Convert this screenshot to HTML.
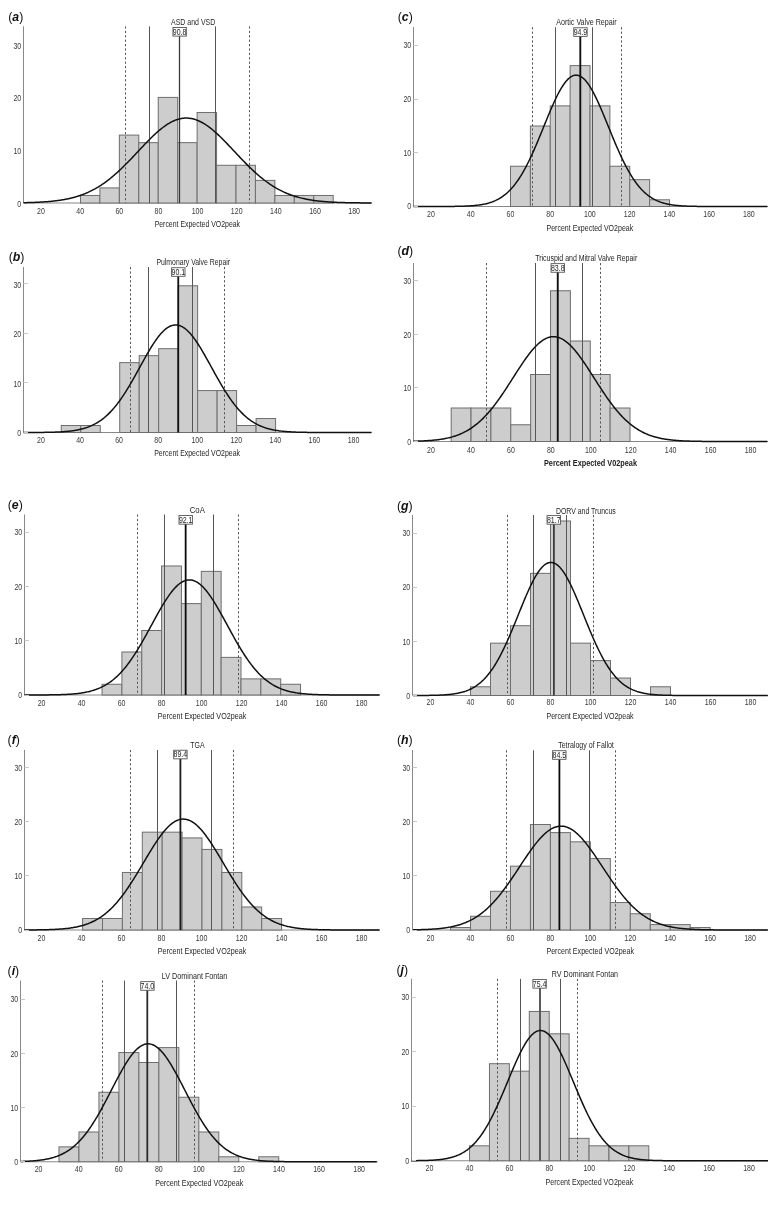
<!DOCTYPE html>
<html><head><meta charset="utf-8"><style>
html,body{margin:0;padding:0;background:#fff;}
svg{display:block;filter:grayscale(1);font-family:"Liberation Sans",sans-serif;}
.bar{fill:#cdcdcd;stroke:#6e6e6e;stroke-width:1;}
.dot{stroke:#555;stroke-width:1;stroke-dasharray:2.2,2.2;}
.thin{stroke:#555;stroke-width:1;}
.mean{stroke:#111;stroke-width:1.6;}
.curve{fill:none;stroke:#111;stroke-width:1.5;stroke-linejoin:round;}
.ax{stroke:#888;stroke-width:1;}
.tick{stroke:#c8c8c8;stroke-width:1;}
.tl{font-size:8.4px;fill:#3a3a3a;}
.tt{font-size:8.4px;fill:#262626;}
.bt{font-size:8.4px;fill:#262626;}
.box{fill:#fff;stroke:#555;stroke-width:0.9;}
.xl{font-size:8.4px;fill:#262626;}
.xlb{font-size:8.6px;fill:#222;font-weight:bold;}
.pl{font-size:13px;fill:#111;}
.pli{font-weight:bold;font-style:italic;}
</style></head>
<body><svg width="776" height="1209" viewBox="0 0 776 1209">
<rect width="776" height="1209" fill="#fff"/>
<line x1="23.5" y1="26.3" x2="23.5" y2="203" class="ax"/>
<line x1="23.5" y1="203" x2="372" y2="203" class="ax"/>
<rect x="80.48" y="195.46" width="19.44" height="7.54" class="bar"/>
<rect x="99.92" y="187.91" width="19.44" height="15.09" class="bar"/>
<rect x="119.36" y="135.11" width="19.44" height="67.89" class="bar"/>
<rect x="138.8" y="142.66" width="19.44" height="60.34" class="bar"/>
<rect x="158.24" y="97.4" width="19.44" height="105.6" class="bar"/>
<rect x="177.68" y="142.66" width="19.44" height="60.34" class="bar"/>
<rect x="197.12" y="112.49" width="19.44" height="90.51" class="bar"/>
<rect x="216.56" y="165.29" width="19.44" height="37.71" class="bar"/>
<rect x="236" y="165.29" width="19.44" height="37.71" class="bar"/>
<rect x="255.44" y="180.37" width="19.44" height="22.63" class="bar"/>
<rect x="274.88" y="195.46" width="19.44" height="7.54" class="bar"/>
<rect x="294.32" y="195.46" width="19.44" height="7.54" class="bar"/>
<rect x="313.76" y="195.46" width="19.44" height="7.54" class="bar"/>
<line x1="125.5" y1="26.4" x2="125.5" y2="203" class="dot"/>
<line x1="249.5" y1="26.4" x2="249.5" y2="203" class="dot"/>
<line x1="149.5" y1="26.4" x2="149.5" y2="203" class="thin"/>
<line x1="215.5" y1="26.4" x2="215.5" y2="203" class="thin"/>
<line x1="179.5" y1="31.8" x2="179.5" y2="203" class="mean" style="stroke-width:1.3;stroke:#3a3a3a"/>
<polyline class="curve" points="23.5,202.71 24.5,202.69 25.5,202.67 26.5,202.65 27.5,202.62 28.5,202.6 29.5,202.57 30.5,202.54 31.5,202.51 32.5,202.47 33.5,202.44 34.5,202.4 35.5,202.36 36.5,202.32 37.5,202.27 38.5,202.22 39.5,202.17 40.5,202.12 41.5,202.06 42.5,202 43.5,201.94 44.5,201.87 45.5,201.8 46.5,201.73 47.5,201.65 48.5,201.57 49.5,201.48 50.5,201.39 51.5,201.29 52.5,201.19 53.5,201.08 54.5,200.97 55.5,200.85 56.5,200.73 57.5,200.6 58.5,200.46 59.5,200.32 60.5,200.17 61.5,200.01 62.5,199.85 63.5,199.67 64.5,199.5 65.5,199.31 66.5,199.11 67.5,198.91 68.5,198.69 69.5,198.47 70.5,198.24 71.5,198 72.5,197.74 73.5,197.48 74.5,197.21 75.5,196.93 76.5,196.63 77.5,196.32 78.5,196.01 79.5,195.68 80.5,195.33 81.5,194.98 82.5,194.61 83.5,194.23 84.5,193.83 85.5,193.43 86.5,193 87.5,192.57 88.5,192.12 89.5,191.65 90.5,191.17 91.5,190.68 92.5,190.17 93.5,189.64 94.5,189.1 95.5,188.55 96.5,187.97 97.5,187.39 98.5,186.78 99.5,186.16 100.5,185.53 101.5,184.87 102.5,184.2 103.5,183.52 104.5,182.82 105.5,182.1 106.5,181.37 107.5,180.61 108.5,179.85 109.5,179.07 110.5,178.27 111.5,177.45 112.5,176.63 113.5,175.78 114.5,174.92 115.5,174.05 116.5,173.16 117.5,172.26 118.5,171.34 119.5,170.41 120.5,169.47 121.5,168.52 122.5,167.55 123.5,166.57 124.5,165.58 125.5,164.59 126.5,163.58 127.5,162.56 128.5,161.53 129.5,160.5 130.5,159.46 131.5,158.41 132.5,157.36 133.5,156.3 134.5,155.24 135.5,154.18 136.5,153.11 137.5,152.04 138.5,150.97 139.5,149.91 140.5,148.84 141.5,147.77 142.5,146.71 143.5,145.66 144.5,144.6 145.5,143.56 146.5,142.52 147.5,141.49 148.5,140.47 149.5,139.46 150.5,138.46 151.5,137.48 152.5,136.51 153.5,135.55 154.5,134.61 155.5,133.68 156.5,132.77 157.5,131.89 158.5,131.02 159.5,130.17 160.5,129.34 161.5,128.54 162.5,127.76 163.5,127 164.5,126.27 165.5,125.57 166.5,124.89 167.5,124.24 168.5,123.62 169.5,123.03 170.5,122.47 171.5,121.94 172.5,121.44 173.5,120.98 174.5,120.54 175.5,120.14 176.5,119.78 177.5,119.45 178.5,119.15 179.5,118.89 180.5,118.66 181.5,118.47 182.5,118.32 183.5,118.2 184.5,118.12 185.5,118.07 186.5,118.07 187.5,118.09 188.5,118.16 189.5,118.26 190.5,118.4 191.5,118.57 192.5,118.78 193.5,119.02 194.5,119.3 195.5,119.62 196.5,119.97 197.5,120.35 198.5,120.77 199.5,121.22 200.5,121.7 201.5,122.22 202.5,122.76 203.5,123.34 204.5,123.95 205.5,124.58 206.5,125.25 207.5,125.94 208.5,126.66 209.5,127.4 210.5,128.17 211.5,128.96 212.5,129.78 213.5,130.62 214.5,131.48 215.5,132.36 216.5,133.26 217.5,134.17 218.5,135.11 219.5,136.06 220.5,137.02 221.5,138 222.5,138.99 223.5,140 224.5,141.01 225.5,142.04 226.5,143.07 227.5,144.12 228.5,145.16 229.5,146.22 230.5,147.28 231.5,148.34 232.5,149.41 233.5,150.47 234.5,151.54 235.5,152.61 236.5,153.68 237.5,154.74 238.5,155.81 239.5,156.87 240.5,157.92 241.5,158.97 242.5,160.01 243.5,161.05 244.5,162.08 245.5,163.1 246.5,164.12 247.5,165.12 248.5,166.11 249.5,167.1 250.5,168.07 251.5,169.03 252.5,169.97 253.5,170.91 254.5,171.83 255.5,172.74 256.5,173.64 257.5,174.52 258.5,175.38 259.5,176.23 260.5,177.07 261.5,177.89 262.5,178.7 263.5,179.49 264.5,180.26 265.5,181.02 266.5,181.76 267.5,182.48 268.5,183.19 269.5,183.89 270.5,184.56 271.5,185.22 272.5,185.87 273.5,186.49 274.5,187.11 275.5,187.7 276.5,188.28 277.5,188.84 278.5,189.39 279.5,189.93 280.5,190.44 281.5,190.94 282.5,191.43 283.5,191.9 284.5,192.36 285.5,192.8 286.5,193.23 287.5,193.65 288.5,194.05 289.5,194.43 290.5,194.81 291.5,195.17 292.5,195.52 293.5,195.85 294.5,196.18 295.5,196.49 296.5,196.79 297.5,197.08 298.5,197.36 299.5,197.62 300.5,197.88 301.5,198.13 302.5,198.36 303.5,198.59 304.5,198.81 305.5,199.02 306.5,199.22 307.5,199.41 308.5,199.59 309.5,199.77 310.5,199.94 311.5,200.1 312.5,200.25 313.5,200.39 314.5,200.53 315.5,200.67 316.5,200.79 317.5,200.91 318.5,201.03 319.5,201.14 320.5,201.24 321.5,201.34 322.5,201.44 323.5,201.53 324.5,201.61 325.5,201.69 326.5,201.77 327.5,201.84 328.5,201.91 329.5,201.97 330.5,202.03 331.5,202.09 332.5,202.15 333.5,202.2 334.5,202.25 335.5,202.3 336.5,202.34 337.5,202.38 338.5,202.42 339.5,202.46 340.5,202.49 341.5,202.52 342.5,202.56 343.5,202.58 344.5,202.61 345.5,202.64 346.5,202.66 347.5,202.68 348.5,202.71 349.5,202.73 350.5,202.74 351.5,202.76 352.5,202.78 353.5,202.79 354.5,202.81 355.5,202.82 356.5,202.83 357.5,202.85 358.5,202.86 359.5,202.87 360.5,202.88 361.5,202.89 362.5,202.89 363.5,202.9 364.5,202.91 365.5,202.92 366.5,202.92 367.5,202.93 368.5,202.93 369.5,202.94 370.5,202.94 371.5,202.95"/>
<text transform="translate(21.2 206.9) scale(0.835 1)" class="tl" text-anchor="end">0</text>
<text transform="translate(21.2 154.1) scale(0.835 1)" class="tl" text-anchor="end">10</text>
<text transform="translate(21.2 101.3) scale(0.835 1)" class="tl" text-anchor="end">20</text>
<text transform="translate(21.2 48.5) scale(0.835 1)" class="tl" text-anchor="end">30</text>
<text transform="translate(41 213.7) scale(0.835 1)" class="tl" text-anchor="middle">20</text>
<text transform="translate(80.14 213.7) scale(0.835 1)" class="tl" text-anchor="middle">40</text>
<text transform="translate(119.28 213.7) scale(0.835 1)" class="tl" text-anchor="middle">60</text>
<text transform="translate(158.42 213.7) scale(0.835 1)" class="tl" text-anchor="middle">80</text>
<text transform="translate(197.56 213.7) scale(0.835 1)" class="tl" text-anchor="middle">100</text>
<text transform="translate(236.7 213.7) scale(0.835 1)" class="tl" text-anchor="middle">120</text>
<text transform="translate(275.84 213.7) scale(0.835 1)" class="tl" text-anchor="middle">140</text>
<text transform="translate(314.98 213.7) scale(0.835 1)" class="tl" text-anchor="middle">160</text>
<text transform="translate(354.12 213.7) scale(0.835 1)" class="tl" text-anchor="middle">180</text>
<text x="193.15" y="24.8" class="tt" text-anchor="middle" textLength="44.2" lengthAdjust="spacingAndGlyphs">ASD and VSD</text>
<rect x="172.95" y="27.5" width="13.4" height="8.6" class="box"/>
<text transform="translate(179.65 34.7) scale(0.835 1)" class="bt" text-anchor="middle">90.8</text>
<text x="197.35" y="226.6" class="xl" text-anchor="middle" textLength="85.4" lengthAdjust="spacingAndGlyphs">Percent Expected VO2peak</text>
<text transform="translate(15.75 21) scale(0.95 1)" class="pl" text-anchor="middle">(<tspan class="pli">a</tspan>)</text>
<line x1="413.5" y1="27" x2="413.5" y2="206.5" class="ax"/>
<line x1="413.5" y1="206.5" x2="768" y2="206.5" class="ax"/>
<rect x="510.5" y="166.25" width="19.88" height="40.25" class="bar"/>
<rect x="530.38" y="126" width="19.88" height="80.5" class="bar"/>
<rect x="550.25" y="105.87" width="19.88" height="100.63" class="bar"/>
<rect x="570.12" y="65.62" width="19.88" height="140.88" class="bar"/>
<rect x="590" y="105.87" width="19.88" height="100.63" class="bar"/>
<rect x="609.88" y="166.25" width="19.88" height="40.25" class="bar"/>
<rect x="629.75" y="179.66" width="19.88" height="26.84" class="bar"/>
<rect x="649.62" y="199.79" width="19.88" height="6.71" class="bar"/>
<line x1="532.5" y1="27.2" x2="532.5" y2="206.5" class="dot"/>
<line x1="621.5" y1="27.2" x2="621.5" y2="206.5" class="dot"/>
<line x1="555.5" y1="27.2" x2="555.5" y2="206.5" class="thin"/>
<line x1="592.5" y1="27.2" x2="592.5" y2="206.5" class="thin"/>
<line x1="580.3" y1="32.07" x2="580.3" y2="206.5" class="mean" style="stroke-width:1.9;stroke:#111"/>
<polyline class="curve" points="413.3,206.5 414.3,206.5 415.3,206.5 416.3,206.5 417.3,206.5 418.3,206.5 419.3,206.5 420.3,206.5 421.3,206.5 422.3,206.5 423.3,206.5 424.3,206.5 425.3,206.5 426.3,206.5 427.3,206.5 428.3,206.5 429.3,206.5 430.3,206.49 431.3,206.49 432.3,206.49 433.3,206.49 434.3,206.49 435.3,206.49 436.3,206.49 437.3,206.49 438.3,206.48 439.3,206.48 440.3,206.48 441.3,206.48 442.3,206.47 443.3,206.47 444.3,206.47 445.3,206.46 446.3,206.46 447.3,206.45 448.3,206.45 449.3,206.44 450.3,206.43 451.3,206.42 452.3,206.41 453.3,206.4 454.3,206.39 455.3,206.37 456.3,206.36 457.3,206.34 458.3,206.32 459.3,206.3 460.3,206.28 461.3,206.25 462.3,206.22 463.3,206.19 464.3,206.16 465.3,206.12 466.3,206.08 467.3,206.03 468.3,205.98 469.3,205.93 470.3,205.86 471.3,205.8 472.3,205.72 473.3,205.64 474.3,205.56 475.3,205.46 476.3,205.36 477.3,205.24 478.3,205.12 479.3,204.99 480.3,204.84 481.3,204.68 482.3,204.51 483.3,204.33 484.3,204.13 485.3,203.91 486.3,203.68 487.3,203.43 488.3,203.16 489.3,202.87 490.3,202.56 491.3,202.22 492.3,201.87 493.3,201.48 494.3,201.07 495.3,200.64 496.3,200.17 497.3,199.67 498.3,199.15 499.3,198.58 500.3,197.99 501.3,197.35 502.3,196.68 503.3,195.97 504.3,195.22 505.3,194.43 506.3,193.59 507.3,192.71 508.3,191.79 509.3,190.81 510.3,189.79 511.3,188.72 512.3,187.59 513.3,186.42 514.3,185.19 515.3,183.91 516.3,182.57 517.3,181.18 518.3,179.74 519.3,178.24 520.3,176.68 521.3,175.07 522.3,173.4 523.3,171.67 524.3,169.89 525.3,168.06 526.3,166.17 527.3,164.23 528.3,162.24 529.3,160.21 530.3,158.12 531.3,155.98 532.3,153.81 533.3,151.59 534.3,149.33 535.3,147.04 536.3,144.71 537.3,142.35 538.3,139.97 539.3,137.56 540.3,135.14 541.3,132.7 542.3,130.25 543.3,127.79 544.3,125.33 545.3,122.87 546.3,120.43 547.3,117.99 548.3,115.57 549.3,113.18 550.3,110.81 551.3,108.48 552.3,106.18 553.3,103.93 554.3,101.73 555.3,99.58 556.3,97.5 557.3,95.47 558.3,93.52 559.3,91.65 560.3,89.85 561.3,88.14 562.3,86.52 563.3,84.99 564.3,83.56 565.3,82.23 566.3,81 567.3,79.89 568.3,78.88 569.3,77.99 570.3,77.22 571.3,76.57 572.3,76.04 573.3,75.63 574.3,75.34 575.3,75.18 576.3,75.15 577.3,75.23 578.3,75.45 579.3,75.79 580.3,76.25 581.3,76.83 582.3,77.54 583.3,78.36 584.3,79.3 585.3,80.35 586.3,81.51 587.3,82.78 588.3,84.15 589.3,85.63 590.3,87.19 591.3,88.86 592.3,90.6 593.3,92.43 594.3,94.34 595.3,96.33 596.3,98.38 597.3,100.49 598.3,102.66 599.3,104.88 600.3,107.15 601.3,109.46 602.3,111.81 603.3,114.19 604.3,116.6 605.3,119.02 606.3,121.47 607.3,123.92 608.3,126.38 609.3,128.83 610.3,131.29 611.3,133.74 612.3,136.17 613.3,138.59 614.3,140.99 615.3,143.36 616.3,145.7 617.3,148.02 618.3,150.29 619.3,152.54 620.3,154.74 621.3,156.9 622.3,159.01 623.3,161.08 624.3,163.1 625.3,165.07 626.3,166.98 627.3,168.85 628.3,170.66 629.3,172.41 630.3,174.11 631.3,175.76 632.3,177.35 633.3,178.88 634.3,180.36 635.3,181.78 636.3,183.15 637.3,184.46 638.3,185.72 639.3,186.92 640.3,188.08 641.3,189.18 642.3,190.23 643.3,191.23 644.3,192.19 645.3,193.09 646.3,193.96 647.3,194.77 648.3,195.55 649.3,196.28 650.3,196.97 651.3,197.63 652.3,198.25 653.3,198.83 654.3,199.37 655.3,199.89 656.3,200.37 657.3,200.83 658.3,201.25 659.3,201.65 660.3,202.02 661.3,202.37 662.3,202.69 663.3,202.99 664.3,203.28 665.3,203.54 666.3,203.78 667.3,204 668.3,204.21 669.3,204.41 670.3,204.59 671.3,204.75 672.3,204.9 673.3,205.04 674.3,205.17 675.3,205.29 676.3,205.4 677.3,205.5 678.3,205.59 679.3,205.68 680.3,205.76 681.3,205.83 682.3,205.89 683.3,205.95 684.3,206 685.3,206.05 686.3,206.1 687.3,206.14 688.3,206.17 689.3,206.21 690.3,206.24 691.3,206.26 692.3,206.29 693.3,206.31 694.3,206.33 695.3,206.35 696.3,206.37 697.3,206.38 698.3,206.39 699.3,206.41 700.3,206.42 701.3,206.43 702.3,206.43 703.3,206.44 704.3,206.45 705.3,206.45 706.3,206.46 707.3,206.46 708.3,206.47 709.3,206.47 710.3,206.48 711.3,206.48 712.3,206.48 713.3,206.48 714.3,206.49 715.3,206.49 716.3,206.49 717.3,206.49 718.3,206.49 719.3,206.49 720.3,206.49 721.3,206.49 722.3,206.5 723.3,206.5 724.3,206.5 725.3,206.5 726.3,206.5 727.3,206.5 728.3,206.5 729.3,206.5 730.3,206.5 731.3,206.5 732.3,206.5 733.3,206.5 734.3,206.5 735.3,206.5 736.3,206.5 737.3,206.5 738.3,206.5 739.3,206.5 740.3,206.5 741.3,206.5 742.3,206.5 743.3,206.5 744.3,206.5 745.3,206.5 746.3,206.5 747.3,206.5 748.3,206.5 749.3,206.5 750.3,206.5 751.3,206.5 752.3,206.5 753.3,206.5 754.3,206.5 755.3,206.5 756.3,206.5 757.3,206.5 758.3,206.5 759.3,206.5 760.3,206.5 761.3,206.5 762.3,206.5 763.3,206.5 764.3,206.5 765.3,206.5 766.3,206.5 767.3,206.5"/>
<text transform="translate(411.2 209.4) scale(0.835 1)" class="tl" text-anchor="end">0</text>
<line x1="413.5" y1="206.5" x2="418" y2="206.5" class="tick"/>
<text transform="translate(411.2 155.73) scale(0.835 1)" class="tl" text-anchor="end">10</text>
<line x1="413.5" y1="152.5" x2="418" y2="152.5" class="tick"/>
<text transform="translate(411.2 102.06) scale(0.835 1)" class="tl" text-anchor="end">20</text>
<line x1="413.5" y1="99.5" x2="418" y2="99.5" class="tick"/>
<text transform="translate(411.2 48.39) scale(0.835 1)" class="tl" text-anchor="end">30</text>
<line x1="413.5" y1="45.5" x2="418" y2="45.5" class="tick"/>
<text transform="translate(430.9 216.7) scale(0.835 1)" class="tl" text-anchor="middle">20</text>
<text transform="translate(470.65 216.7) scale(0.835 1)" class="tl" text-anchor="middle">40</text>
<text transform="translate(510.4 216.7) scale(0.835 1)" class="tl" text-anchor="middle">60</text>
<text transform="translate(550.15 216.7) scale(0.835 1)" class="tl" text-anchor="middle">80</text>
<text transform="translate(589.9 216.7) scale(0.835 1)" class="tl" text-anchor="middle">100</text>
<text transform="translate(629.65 216.7) scale(0.835 1)" class="tl" text-anchor="middle">120</text>
<text transform="translate(669.4 216.7) scale(0.835 1)" class="tl" text-anchor="middle">140</text>
<text transform="translate(709.15 216.7) scale(0.835 1)" class="tl" text-anchor="middle">160</text>
<text transform="translate(748.9 216.7) scale(0.835 1)" class="tl" text-anchor="middle">180</text>
<text x="586.45" y="25.2" class="tt" text-anchor="middle" textLength="60.6" lengthAdjust="spacingAndGlyphs">Aortic Valve Repair</text>
<rect x="573.75" y="27.77" width="13.4" height="8.6" class="box"/>
<text transform="translate(580.45 34.97) scale(0.835 1)" class="bt" text-anchor="middle">94.9</text>
<text x="589.85" y="230.9" class="xl" text-anchor="middle" textLength="86.8" lengthAdjust="spacingAndGlyphs">Percent Expected VO2peak</text>
<text transform="translate(405.25 21.1) scale(0.95 1)" class="pl" text-anchor="middle">(<tspan class="pli">c</tspan>)</text>
<line x1="23.5" y1="267" x2="23.5" y2="432.5" class="ax"/>
<line x1="23.5" y1="432.5" x2="371.5" y2="432.5" class="ax"/>
<rect x="61.28" y="425.51" width="19.48" height="6.99" class="bar"/>
<rect x="80.76" y="425.51" width="19.48" height="6.99" class="bar"/>
<rect x="119.72" y="362.64" width="19.48" height="69.86" class="bar"/>
<rect x="139.2" y="355.65" width="19.48" height="76.85" class="bar"/>
<rect x="158.68" y="348.67" width="19.48" height="83.83" class="bar"/>
<rect x="178.16" y="285.8" width="19.48" height="146.7" class="bar"/>
<rect x="197.64" y="390.58" width="19.48" height="41.92" class="bar"/>
<rect x="217.12" y="390.58" width="19.48" height="41.92" class="bar"/>
<rect x="236.6" y="425.51" width="19.48" height="6.99" class="bar"/>
<rect x="256.08" y="418.53" width="19.48" height="13.97" class="bar"/>
<line x1="130.5" y1="267" x2="130.5" y2="432.5" class="dot"/>
<line x1="224.5" y1="267" x2="224.5" y2="432.5" class="dot"/>
<line x1="148.5" y1="267" x2="148.5" y2="432.5" class="thin"/>
<line x1="192.5" y1="267" x2="192.5" y2="432.5" class="thin"/>
<line x1="178.25" y1="272" x2="178.25" y2="432.5" class="mean" style="stroke-width:1.8;stroke:#111"/>
<polyline class="curve" points="23.5,432.49 24.5,432.49 25.5,432.48 26.5,432.48 27.5,432.48 28.5,432.48 29.5,432.47 30.5,432.47 31.5,432.47 32.5,432.46 33.5,432.46 34.5,432.45 35.5,432.45 36.5,432.44 37.5,432.44 38.5,432.43 39.5,432.42 40.5,432.41 41.5,432.4 42.5,432.39 43.5,432.38 44.5,432.37 45.5,432.35 46.5,432.34 47.5,432.32 48.5,432.3 49.5,432.28 50.5,432.26 51.5,432.23 52.5,432.21 53.5,432.18 54.5,432.14 55.5,432.11 56.5,432.07 57.5,432.03 58.5,431.98 59.5,431.93 60.5,431.88 61.5,431.82 62.5,431.76 63.5,431.69 64.5,431.62 65.5,431.54 66.5,431.46 67.5,431.36 68.5,431.26 69.5,431.16 70.5,431.04 71.5,430.92 72.5,430.79 73.5,430.64 74.5,430.49 75.5,430.33 76.5,430.15 77.5,429.96 78.5,429.76 79.5,429.55 80.5,429.32 81.5,429.08 82.5,428.82 83.5,428.55 84.5,428.25 85.5,427.94 86.5,427.61 87.5,427.27 88.5,426.9 89.5,426.51 90.5,426.09 91.5,425.66 92.5,425.2 93.5,424.71 94.5,424.2 95.5,423.66 96.5,423.1 97.5,422.5 98.5,421.88 99.5,421.23 100.5,420.54 101.5,419.83 102.5,419.08 103.5,418.3 104.5,417.49 105.5,416.64 106.5,415.75 107.5,414.84 108.5,413.88 109.5,412.89 110.5,411.86 111.5,410.8 112.5,409.7 113.5,408.56 114.5,407.38 115.5,406.17 116.5,404.92 117.5,403.63 118.5,402.3 119.5,400.94 120.5,399.55 121.5,398.11 122.5,396.65 123.5,395.15 124.5,393.62 125.5,392.06 126.5,390.46 127.5,388.84 128.5,387.19 129.5,385.52 130.5,383.82 131.5,382.1 132.5,380.36 133.5,378.6 134.5,376.82 135.5,375.03 136.5,373.23 137.5,371.42 138.5,369.61 139.5,367.79 140.5,365.97 141.5,364.15 142.5,362.34 143.5,360.54 144.5,358.74 145.5,356.96 146.5,355.2 147.5,353.46 148.5,351.74 149.5,350.05 150.5,348.39 151.5,346.76 152.5,345.17 153.5,343.62 154.5,342.11 155.5,340.65 156.5,339.23 157.5,337.87 158.5,336.56 159.5,335.31 160.5,334.12 161.5,333 162.5,331.94 163.5,330.94 164.5,330.02 165.5,329.17 166.5,328.39 167.5,327.69 168.5,327.06 169.5,326.52 170.5,326.05 171.5,325.67 172.5,325.37 173.5,325.15 174.5,325.01 175.5,324.96 176.5,324.99 177.5,325.11 178.5,325.3 179.5,325.58 180.5,325.95 181.5,326.39 182.5,326.92 183.5,327.52 184.5,328.2 185.5,328.96 186.5,329.79 187.5,330.7 188.5,331.68 189.5,332.72 190.5,333.83 191.5,335 192.5,336.24 193.5,337.53 194.5,338.88 195.5,340.28 196.5,341.73 197.5,343.23 198.5,344.77 199.5,346.35 200.5,347.97 201.5,349.62 202.5,351.31 203.5,353.02 204.5,354.75 205.5,356.51 206.5,358.29 207.5,360.08 208.5,361.88 209.5,363.69 210.5,365.51 211.5,367.33 212.5,369.15 213.5,370.96 214.5,372.77 215.5,374.58 216.5,376.37 217.5,378.15 218.5,379.91 219.5,381.66 220.5,383.38 221.5,385.09 222.5,386.77 223.5,388.42 224.5,390.05 225.5,391.65 226.5,393.22 227.5,394.76 228.5,396.27 229.5,397.74 230.5,399.18 231.5,400.59 232.5,401.96 233.5,403.29 234.5,404.59 235.5,405.85 236.5,407.07 237.5,408.26 238.5,409.41 239.5,410.52 240.5,411.59 241.5,412.63 242.5,413.63 243.5,414.6 244.5,415.52 245.5,416.42 246.5,417.27 247.5,418.1 248.5,418.89 249.5,419.64 250.5,420.36 251.5,421.06 252.5,421.72 253.5,422.35 254.5,422.95 255.5,423.52 256.5,424.06 257.5,424.58 258.5,425.07 259.5,425.54 260.5,425.98 261.5,426.4 262.5,426.8 263.5,427.17 264.5,427.53 265.5,427.86 266.5,428.18 267.5,428.47 268.5,428.75 269.5,429.02 270.5,429.26 271.5,429.49 272.5,429.71 273.5,429.91 274.5,430.11 275.5,430.28 276.5,430.45 277.5,430.61 278.5,430.75 279.5,430.89 280.5,431.01 281.5,431.13 282.5,431.24 283.5,431.34 284.5,431.43 285.5,431.52 286.5,431.6 287.5,431.68 288.5,431.74 289.5,431.81 290.5,431.87 291.5,431.92 292.5,431.97 293.5,432.02 294.5,432.06 295.5,432.1 296.5,432.14 297.5,432.17 298.5,432.2 299.5,432.23 300.5,432.25 301.5,432.27 302.5,432.3 303.5,432.31 304.5,432.33 305.5,432.35 306.5,432.36 307.5,432.38 308.5,432.39 309.5,432.4 310.5,432.41 311.5,432.42 312.5,432.43 313.5,432.43 314.5,432.44 315.5,432.45 316.5,432.45 317.5,432.46 318.5,432.46 319.5,432.47 320.5,432.47 321.5,432.47 322.5,432.48 323.5,432.48 324.5,432.48 325.5,432.48 326.5,432.48 327.5,432.49 328.5,432.49 329.5,432.49 330.5,432.49 331.5,432.49 332.5,432.49 333.5,432.49 334.5,432.49 335.5,432.49 336.5,432.5 337.5,432.5 338.5,432.5 339.5,432.5 340.5,432.5 341.5,432.5 342.5,432.5 343.5,432.5 344.5,432.5 345.5,432.5 346.5,432.5 347.5,432.5 348.5,432.5 349.5,432.5 350.5,432.5 351.5,432.5 352.5,432.5 353.5,432.5 354.5,432.5 355.5,432.5 356.5,432.5 357.5,432.5 358.5,432.5 359.5,432.5 360.5,432.5 361.5,432.5 362.5,432.5 363.5,432.5 364.5,432.5 365.5,432.5 366.5,432.5 367.5,432.5 368.5,432.5 369.5,432.5 370.5,432.5 371.5,432.5"/>
<text transform="translate(21.2 436.4) scale(0.835 1)" class="tl" text-anchor="end">0</text>
<line x1="23.5" y1="432.5" x2="28" y2="432.5" class="tick"/>
<text transform="translate(21.2 386.8) scale(0.835 1)" class="tl" text-anchor="end">10</text>
<line x1="23.5" y1="382.5" x2="28" y2="382.5" class="tick"/>
<text transform="translate(21.2 337.2) scale(0.835 1)" class="tl" text-anchor="end">20</text>
<line x1="23.5" y1="333.5" x2="28" y2="333.5" class="tick"/>
<text transform="translate(21.2 287.6) scale(0.835 1)" class="tl" text-anchor="end">30</text>
<line x1="23.5" y1="283.5" x2="28" y2="283.5" class="tick"/>
<text transform="translate(41 443.2) scale(0.835 1)" class="tl" text-anchor="middle">20</text>
<text transform="translate(80.06 443.2) scale(0.835 1)" class="tl" text-anchor="middle">40</text>
<text transform="translate(119.12 443.2) scale(0.835 1)" class="tl" text-anchor="middle">60</text>
<text transform="translate(158.18 443.2) scale(0.835 1)" class="tl" text-anchor="middle">80</text>
<text transform="translate(197.24 443.2) scale(0.835 1)" class="tl" text-anchor="middle">100</text>
<text transform="translate(236.3 443.2) scale(0.835 1)" class="tl" text-anchor="middle">120</text>
<text transform="translate(275.36 443.2) scale(0.835 1)" class="tl" text-anchor="middle">140</text>
<text transform="translate(314.42 443.2) scale(0.835 1)" class="tl" text-anchor="middle">160</text>
<text transform="translate(353.48 443.2) scale(0.835 1)" class="tl" text-anchor="middle">180</text>
<text x="193.25" y="265.3" class="tt" text-anchor="middle" textLength="73.6" lengthAdjust="spacingAndGlyphs">Pulmonary Valve Repair</text>
<rect x="171.6" y="267.7" width="13.4" height="8.6" class="box"/>
<text transform="translate(178.3 274.9) scale(0.835 1)" class="bt" text-anchor="middle">90.1</text>
<text x="197.15" y="456" class="xl" text-anchor="middle" textLength="85.8" lengthAdjust="spacingAndGlyphs">Percent Expected VO2peak</text>
<text transform="translate(16.5 260.6) scale(0.95 1)" class="pl" text-anchor="middle">(<tspan class="pli">b</tspan>)</text>
<line x1="413.5" y1="263" x2="413.5" y2="441.5" class="ax"/>
<line x1="413.5" y1="441.5" x2="768" y2="441.5" class="ax"/>
<rect x="451.17" y="408" width="19.87" height="33.5" class="bar"/>
<rect x="471.04" y="408" width="19.87" height="33.5" class="bar"/>
<rect x="490.91" y="408" width="19.87" height="33.5" class="bar"/>
<rect x="510.78" y="424.75" width="19.87" height="16.75" class="bar"/>
<rect x="530.65" y="374.5" width="19.87" height="67" class="bar"/>
<rect x="550.52" y="290.75" width="19.87" height="150.75" class="bar"/>
<rect x="570.39" y="341" width="19.87" height="100.5" class="bar"/>
<rect x="590.26" y="374.5" width="19.87" height="67" class="bar"/>
<rect x="610.13" y="408" width="19.87" height="33.5" class="bar"/>
<line x1="486.5" y1="263" x2="486.5" y2="441.5" class="dot"/>
<line x1="600.5" y1="263" x2="600.5" y2="441.5" class="dot"/>
<line x1="535.5" y1="263" x2="535.5" y2="441.5" class="thin"/>
<line x1="582.5" y1="263" x2="582.5" y2="441.5" class="thin"/>
<line x1="557.75" y1="267.95" x2="557.75" y2="441.5" class="mean" style="stroke-width:1.9;stroke:#111"/>
<polyline class="curve" points="413.3,441.24 414.3,441.21 415.3,441.19 416.3,441.16 417.3,441.13 418.3,441.1 419.3,441.06 420.3,441.03 421.3,440.99 422.3,440.94 423.3,440.9 424.3,440.85 425.3,440.79 426.3,440.74 427.3,440.68 428.3,440.61 429.3,440.54 430.3,440.47 431.3,440.39 432.3,440.3 433.3,440.21 434.3,440.11 435.3,440.01 436.3,439.9 437.3,439.78 438.3,439.65 439.3,439.52 440.3,439.38 441.3,439.23 442.3,439.07 443.3,438.9 444.3,438.72 445.3,438.53 446.3,438.33 447.3,438.11 448.3,437.89 449.3,437.65 450.3,437.4 451.3,437.13 452.3,436.86 453.3,436.56 454.3,436.25 455.3,435.93 456.3,435.59 457.3,435.23 458.3,434.85 459.3,434.46 460.3,434.04 461.3,433.61 462.3,433.16 463.3,432.69 464.3,432.19 465.3,431.67 466.3,431.14 467.3,430.57 468.3,429.99 469.3,429.38 470.3,428.75 471.3,428.09 472.3,427.41 473.3,426.7 474.3,425.96 475.3,425.2 476.3,424.41 477.3,423.59 478.3,422.75 479.3,421.87 480.3,420.97 481.3,420.05 482.3,419.09 483.3,418.1 484.3,417.09 485.3,416.05 486.3,414.98 487.3,413.88 488.3,412.75 489.3,411.6 490.3,410.41 491.3,409.21 492.3,407.97 493.3,406.71 494.3,405.42 495.3,404.11 496.3,402.77 497.3,401.41 498.3,400.03 499.3,398.63 500.3,397.2 501.3,395.76 502.3,394.29 503.3,392.82 504.3,391.32 505.3,389.81 506.3,388.29 507.3,386.75 508.3,385.21 509.3,383.66 510.3,382.1 511.3,380.53 512.3,378.97 513.3,377.4 514.3,375.83 515.3,374.27 516.3,372.71 517.3,371.15 518.3,369.61 519.3,368.07 520.3,366.55 521.3,365.04 522.3,363.55 523.3,362.08 524.3,360.64 525.3,359.21 526.3,357.81 527.3,356.44 528.3,355.1 529.3,353.79 530.3,352.52 531.3,351.28 532.3,350.08 533.3,348.92 534.3,347.8 535.3,346.73 536.3,345.7 537.3,344.73 538.3,343.8 539.3,342.92 540.3,342.09 541.3,341.32 542.3,340.61 543.3,339.95 544.3,339.35 545.3,338.8 546.3,338.32 547.3,337.9 548.3,337.54 549.3,337.24 550.3,337.01 551.3,336.83 552.3,336.73 553.3,336.68 554.3,336.7 555.3,336.78 556.3,336.93 557.3,337.14 558.3,337.41 559.3,337.75 560.3,338.14 561.3,338.6 562.3,339.12 563.3,339.7 564.3,340.33 565.3,341.03 566.3,341.78 567.3,342.58 568.3,343.44 569.3,344.35 570.3,345.31 571.3,346.31 572.3,347.37 573.3,348.47 574.3,349.61 575.3,350.79 576.3,352.02 577.3,353.28 578.3,354.57 579.3,355.9 580.3,357.26 581.3,358.65 582.3,360.06 583.3,361.5 584.3,362.96 585.3,364.44 586.3,365.94 587.3,367.46 588.3,368.99 589.3,370.53 590.3,372.08 591.3,373.64 592.3,375.2 593.3,376.77 594.3,378.34 595.3,379.91 596.3,381.47 597.3,383.03 598.3,384.59 599.3,386.14 600.3,387.67 601.3,389.2 602.3,390.72 603.3,392.22 604.3,393.7 605.3,395.17 606.3,396.62 607.3,398.06 608.3,399.47 609.3,400.86 610.3,402.23 611.3,403.57 612.3,404.9 613.3,406.19 614.3,407.47 615.3,408.71 616.3,409.93 617.3,411.13 618.3,412.29 619.3,413.43 620.3,414.54 621.3,415.62 622.3,416.68 623.3,417.7 624.3,418.7 625.3,419.67 626.3,420.61 627.3,421.52 628.3,422.4 629.3,423.26 630.3,424.08 631.3,424.88 632.3,425.66 633.3,426.4 634.3,427.12 635.3,427.82 636.3,428.49 637.3,429.13 638.3,429.75 639.3,430.34 640.3,430.91 641.3,431.46 642.3,431.99 643.3,432.49 644.3,432.97 645.3,433.43 646.3,433.87 647.3,434.29 648.3,434.7 649.3,435.08 650.3,435.45 651.3,435.79 652.3,436.12 653.3,436.44 654.3,436.74 655.3,437.02 656.3,437.29 657.3,437.55 658.3,437.79 659.3,438.02 660.3,438.24 661.3,438.45 662.3,438.64 663.3,438.83 664.3,439 665.3,439.16 666.3,439.32 667.3,439.46 668.3,439.6 669.3,439.73 670.3,439.85 671.3,439.96 672.3,440.07 673.3,440.17 674.3,440.26 675.3,440.35 676.3,440.43 677.3,440.51 678.3,440.58 679.3,440.65 680.3,440.71 681.3,440.77 682.3,440.83 683.3,440.88 684.3,440.93 685.3,440.97 686.3,441.01 687.3,441.05 688.3,441.08 689.3,441.12 690.3,441.15 691.3,441.18 692.3,441.2 693.3,441.23 694.3,441.25 695.3,441.27 696.3,441.29 697.3,441.31 698.3,441.32 699.3,441.34 700.3,441.35 701.3,441.36 702.3,441.38 703.3,441.39 704.3,441.4 705.3,441.41 706.3,441.41 707.3,441.42 708.3,441.43 709.3,441.44 710.3,441.44 711.3,441.45 712.3,441.45 713.3,441.46 714.3,441.46 715.3,441.46 716.3,441.47 717.3,441.47 718.3,441.47 719.3,441.48 720.3,441.48 721.3,441.48 722.3,441.48 723.3,441.48 724.3,441.49 725.3,441.49 726.3,441.49 727.3,441.49 728.3,441.49 729.3,441.49 730.3,441.49 731.3,441.49 732.3,441.49 733.3,441.49 734.3,441.49 735.3,441.5 736.3,441.5 737.3,441.5 738.3,441.5 739.3,441.5 740.3,441.5 741.3,441.5 742.3,441.5 743.3,441.5 744.3,441.5 745.3,441.5 746.3,441.5 747.3,441.5 748.3,441.5 749.3,441.5 750.3,441.5 751.3,441.5 752.3,441.5 753.3,441.5 754.3,441.5 755.3,441.5 756.3,441.5 757.3,441.5 758.3,441.5 759.3,441.5 760.3,441.5 761.3,441.5 762.3,441.5 763.3,441.5 764.3,441.5 765.3,441.5 766.3,441.5 767.3,441.5"/>
<text transform="translate(411.2 445) scale(0.835 1)" class="tl" text-anchor="end">0</text>
<line x1="413.5" y1="441.5" x2="418" y2="441.5" class="tick"/>
<text transform="translate(411.2 391.4) scale(0.835 1)" class="tl" text-anchor="end">10</text>
<line x1="413.5" y1="387.5" x2="418" y2="387.5" class="tick"/>
<text transform="translate(411.2 337.8) scale(0.835 1)" class="tl" text-anchor="end">20</text>
<line x1="413.5" y1="334.5" x2="418" y2="334.5" class="tick"/>
<text transform="translate(411.2 284.2) scale(0.835 1)" class="tl" text-anchor="end">30</text>
<line x1="413.5" y1="280.5" x2="418" y2="280.5" class="tick"/>
<text transform="translate(431 452.7) scale(0.835 1)" class="tl" text-anchor="middle">20</text>
<text transform="translate(470.94 452.7) scale(0.835 1)" class="tl" text-anchor="middle">40</text>
<text transform="translate(510.88 452.7) scale(0.835 1)" class="tl" text-anchor="middle">60</text>
<text transform="translate(550.82 452.7) scale(0.835 1)" class="tl" text-anchor="middle">80</text>
<text transform="translate(590.76 452.7) scale(0.835 1)" class="tl" text-anchor="middle">100</text>
<text transform="translate(630.7 452.7) scale(0.835 1)" class="tl" text-anchor="middle">120</text>
<text transform="translate(670.64 452.7) scale(0.835 1)" class="tl" text-anchor="middle">140</text>
<text transform="translate(710.58 452.7) scale(0.835 1)" class="tl" text-anchor="middle">160</text>
<text transform="translate(750.52 452.7) scale(0.835 1)" class="tl" text-anchor="middle">180</text>
<text x="586.2" y="261" class="tt" text-anchor="middle" textLength="102.1" lengthAdjust="spacingAndGlyphs">Tricuspid and Mitral Valve Repair</text>
<rect x="551.05" y="263.65" width="13.4" height="8.6" class="box"/>
<text transform="translate(557.75 270.85) scale(0.835 1)" class="bt" text-anchor="middle">83.8</text>
<text x="590.45" y="465.9" class="xlb" text-anchor="middle" textLength="93" lengthAdjust="spacingAndGlyphs">Percent Expected V02peak</text>
<text transform="translate(405.25 254.85) scale(0.95 1)" class="pl" text-anchor="middle">(<tspan class="pli">d</tspan>)</text>
<line x1="24.5" y1="514.5" x2="24.5" y2="695" class="ax"/>
<line x1="24.5" y1="695" x2="380" y2="695" class="ax"/>
<rect x="102.05" y="684.25" width="19.85" height="10.75" class="bar"/>
<rect x="121.9" y="651.99" width="19.85" height="43.01" class="bar"/>
<rect x="141.75" y="630.49" width="19.85" height="64.51" class="bar"/>
<rect x="161.6" y="565.97" width="19.85" height="129.03" class="bar"/>
<rect x="181.45" y="603.6" width="19.85" height="91.4" class="bar"/>
<rect x="201.3" y="571.35" width="19.85" height="123.65" class="bar"/>
<rect x="221.15" y="657.37" width="19.85" height="37.63" class="bar"/>
<rect x="241" y="678.87" width="19.85" height="16.13" class="bar"/>
<rect x="260.85" y="678.87" width="19.85" height="16.13" class="bar"/>
<rect x="280.7" y="684.25" width="19.85" height="10.75" class="bar"/>
<line x1="137.5" y1="514.5" x2="137.5" y2="695" class="dot"/>
<line x1="238.5" y1="514.5" x2="238.5" y2="695" class="dot"/>
<line x1="164.5" y1="514.5" x2="164.5" y2="695" class="thin"/>
<line x1="213.5" y1="514.5" x2="213.5" y2="695" class="thin"/>
<line x1="185.65" y1="519.85" x2="185.65" y2="695" class="mean" style="stroke-width:1.8;stroke:#0a0a0a"/>
<polyline class="curve" points="24.5,694.99 25.5,694.99 26.5,694.99 27.5,694.99 28.5,694.99 29.5,694.98 30.5,694.98 31.5,694.98 32.5,694.98 33.5,694.98 34.5,694.97 35.5,694.97 36.5,694.97 37.5,694.96 38.5,694.96 39.5,694.95 40.5,694.95 41.5,694.94 42.5,694.94 43.5,694.93 44.5,694.92 45.5,694.91 46.5,694.91 47.5,694.9 48.5,694.88 49.5,694.87 50.5,694.86 51.5,694.85 52.5,694.83 53.5,694.81 54.5,694.79 55.5,694.77 56.5,694.75 57.5,694.73 58.5,694.7 59.5,694.67 60.5,694.64 61.5,694.61 62.5,694.57 63.5,694.54 64.5,694.49 65.5,694.45 66.5,694.4 67.5,694.34 68.5,694.29 69.5,694.22 70.5,694.16 71.5,694.08 72.5,694.01 73.5,693.92 74.5,693.83 75.5,693.74 76.5,693.63 77.5,693.52 78.5,693.4 79.5,693.27 80.5,693.14 81.5,692.99 82.5,692.84 83.5,692.67 84.5,692.49 85.5,692.3 86.5,692.1 87.5,691.89 88.5,691.66 89.5,691.42 90.5,691.16 91.5,690.89 92.5,690.6 93.5,690.3 94.5,689.98 95.5,689.64 96.5,689.28 97.5,688.9 98.5,688.5 99.5,688.07 100.5,687.63 101.5,687.16 102.5,686.67 103.5,686.15 104.5,685.61 105.5,685.05 106.5,684.45 107.5,683.83 108.5,683.18 109.5,682.5 110.5,681.79 111.5,681.05 112.5,680.28 113.5,679.47 114.5,678.64 115.5,677.77 116.5,676.86 117.5,675.93 118.5,674.96 119.5,673.95 120.5,672.91 121.5,671.83 122.5,670.72 123.5,669.57 124.5,668.39 125.5,667.17 126.5,665.92 127.5,664.63 128.5,663.3 129.5,661.94 130.5,660.55 131.5,659.12 132.5,657.66 133.5,656.16 134.5,654.64 135.5,653.08 136.5,651.49 137.5,649.88 138.5,648.24 139.5,646.57 140.5,644.88 141.5,643.16 142.5,641.42 143.5,639.66 144.5,637.89 145.5,636.1 146.5,634.29 147.5,632.48 148.5,630.65 149.5,628.82 150.5,626.98 151.5,625.14 152.5,623.29 153.5,621.46 154.5,619.62 155.5,617.8 156.5,615.98 157.5,614.18 158.5,612.4 159.5,610.63 160.5,608.89 161.5,607.17 162.5,605.48 163.5,603.82 164.5,602.2 165.5,600.61 166.5,599.06 167.5,597.56 168.5,596.1 169.5,594.68 170.5,593.32 171.5,592.01 172.5,590.76 173.5,589.56 174.5,588.43 175.5,587.36 176.5,586.35 177.5,585.41 178.5,584.54 179.5,583.73 180.5,583.01 181.5,582.35 182.5,581.77 183.5,581.26 184.5,580.84 185.5,580.49 186.5,580.22 187.5,580.03 188.5,579.92 189.5,579.88 190.5,579.93 191.5,580.06 192.5,580.27 193.5,580.56 194.5,580.92 195.5,581.37 196.5,581.89 197.5,582.49 198.5,583.16 199.5,583.9 200.5,584.72 201.5,585.61 202.5,586.56 203.5,587.59 204.5,588.67 205.5,589.82 206.5,591.03 207.5,592.3 208.5,593.62 209.5,594.99 210.5,596.41 211.5,597.88 212.5,599.4 213.5,600.96 214.5,602.55 215.5,604.19 216.5,605.85 217.5,607.55 218.5,609.27 219.5,611.02 220.5,612.79 221.5,614.58 222.5,616.38 223.5,618.2 224.5,620.03 225.5,621.86 226.5,623.7 227.5,625.54 228.5,627.38 229.5,629.22 230.5,631.05 231.5,632.88 232.5,634.69 233.5,636.49 234.5,638.28 235.5,640.05 236.5,641.81 237.5,643.54 238.5,645.25 239.5,646.94 240.5,648.6 241.5,650.24 242.5,651.85 243.5,653.43 244.5,654.97 245.5,656.49 246.5,657.98 247.5,659.44 248.5,660.86 249.5,662.24 250.5,663.6 251.5,664.91 252.5,666.2 253.5,667.44 254.5,668.65 255.5,669.83 256.5,670.97 257.5,672.07 258.5,673.14 259.5,674.18 260.5,675.17 261.5,676.14 262.5,677.07 263.5,677.96 264.5,678.82 265.5,679.65 266.5,680.45 267.5,681.21 268.5,681.95 269.5,682.65 270.5,683.32 271.5,683.97 272.5,684.58 273.5,685.17 274.5,685.73 275.5,686.27 276.5,686.78 277.5,687.27 278.5,687.73 279.5,688.17 280.5,688.59 281.5,688.98 282.5,689.36 283.5,689.71 284.5,690.05 285.5,690.37 286.5,690.67 287.5,690.95 288.5,691.22 289.5,691.48 290.5,691.71 291.5,691.94 292.5,692.15 293.5,692.35 294.5,692.53 295.5,692.71 296.5,692.87 297.5,693.03 298.5,693.17 299.5,693.3 300.5,693.43 301.5,693.55 302.5,693.66 303.5,693.76 304.5,693.85 305.5,693.94 306.5,694.02 307.5,694.1 308.5,694.17 309.5,694.24 310.5,694.3 311.5,694.36 312.5,694.41 313.5,694.46 314.5,694.5 315.5,694.54 316.5,694.58 317.5,694.62 318.5,694.65 319.5,694.68 320.5,694.71 321.5,694.73 322.5,694.76 323.5,694.78 324.5,694.8 325.5,694.82 326.5,694.83 327.5,694.85 328.5,694.86 329.5,694.88 330.5,694.89 331.5,694.9 332.5,694.91 333.5,694.92 334.5,694.92 335.5,694.93 336.5,694.94 337.5,694.94 338.5,694.95 339.5,694.95 340.5,694.96 341.5,694.96 342.5,694.97 343.5,694.97 344.5,694.97 345.5,694.98 346.5,694.98 347.5,694.98 348.5,694.98 349.5,694.98 350.5,694.99 351.5,694.99 352.5,694.99 353.5,694.99 354.5,694.99 355.5,694.99 356.5,694.99 357.5,694.99 358.5,694.99 359.5,695 360.5,695 361.5,695 362.5,695 363.5,695 364.5,695 365.5,695 366.5,695 367.5,695 368.5,695 369.5,695 370.5,695 371.5,695 372.5,695 373.5,695 374.5,695 375.5,695 376.5,695 377.5,695 378.5,695 379.5,695"/>
<text transform="translate(22.2 698.1) scale(0.835 1)" class="tl" text-anchor="end">0</text>
<line x1="24.5" y1="695.5" x2="29" y2="695.5" class="tick"/>
<text transform="translate(22.2 643.8) scale(0.835 1)" class="tl" text-anchor="end">10</text>
<line x1="24.5" y1="640.5" x2="29" y2="640.5" class="tick"/>
<text transform="translate(22.2 589.5) scale(0.835 1)" class="tl" text-anchor="end">20</text>
<line x1="24.5" y1="586.5" x2="29" y2="586.5" class="tick"/>
<text transform="translate(22.2 535.2) scale(0.835 1)" class="tl" text-anchor="end">30</text>
<line x1="24.5" y1="532.5" x2="29" y2="532.5" class="tick"/>
<text transform="translate(41.6 705.7) scale(0.835 1)" class="tl" text-anchor="middle">20</text>
<text transform="translate(81.6 705.7) scale(0.835 1)" class="tl" text-anchor="middle">40</text>
<text transform="translate(121.6 705.7) scale(0.835 1)" class="tl" text-anchor="middle">60</text>
<text transform="translate(161.6 705.7) scale(0.835 1)" class="tl" text-anchor="middle">80</text>
<text transform="translate(201.6 705.7) scale(0.835 1)" class="tl" text-anchor="middle">100</text>
<text transform="translate(241.6 705.7) scale(0.835 1)" class="tl" text-anchor="middle">120</text>
<text transform="translate(281.6 705.7) scale(0.835 1)" class="tl" text-anchor="middle">140</text>
<text transform="translate(321.6 705.7) scale(0.835 1)" class="tl" text-anchor="middle">160</text>
<text transform="translate(361.6 705.7) scale(0.835 1)" class="tl" text-anchor="middle">180</text>
<text x="197.3" y="512.8" class="tt" text-anchor="middle" textLength="15.1" lengthAdjust="spacingAndGlyphs">CoA</text>
<rect x="179" y="515.55" width="13.4" height="8.6" class="box"/>
<text transform="translate(185.7 522.75) scale(0.835 1)" class="bt" text-anchor="middle">92.1</text>
<text x="202" y="718.9" class="xl" text-anchor="middle" textLength="88.5" lengthAdjust="spacingAndGlyphs">Percent Expected VO2peak</text>
<text transform="translate(15.25 509.35) scale(0.95 1)" class="pl" text-anchor="middle">(<tspan class="pli">e</tspan>)</text>
<line x1="412.5" y1="515" x2="412.5" y2="695.5" class="ax"/>
<line x1="412.5" y1="695.5" x2="768" y2="695.5" class="ax"/>
<rect x="470.5" y="686.77" width="20" height="8.73" class="bar"/>
<rect x="490.5" y="643.15" width="20" height="52.35" class="bar"/>
<rect x="510.5" y="625.69" width="20" height="69.81" class="bar"/>
<rect x="530.5" y="573.34" width="20" height="122.16" class="bar"/>
<rect x="550.5" y="520.98" width="20" height="174.52" class="bar"/>
<rect x="570.5" y="643.15" width="20" height="52.35" class="bar"/>
<rect x="590.5" y="660.6" width="20" height="34.9" class="bar"/>
<rect x="610.5" y="678.05" width="20" height="17.45" class="bar"/>
<rect x="650.5" y="686.77" width="20" height="8.73" class="bar"/>
<line x1="507.5" y1="515" x2="507.5" y2="695.5" class="dot"/>
<line x1="593.5" y1="515" x2="593.5" y2="695.5" class="dot"/>
<line x1="533.5" y1="515" x2="533.5" y2="695.5" class="thin"/>
<line x1="566.5" y1="515" x2="566.5" y2="695.5" class="thin"/>
<line x1="553.9" y1="519.9" x2="553.9" y2="695.5" class="mean" style="stroke-width:1.7;stroke:#333"/>
<polyline class="curve" points="412.8,695.48 413.8,695.48 414.8,695.48 415.8,695.48 416.8,695.47 417.8,695.47 418.8,695.46 419.8,695.46 420.8,695.45 421.8,695.45 422.8,695.44 423.8,695.43 424.8,695.42 425.8,695.42 426.8,695.41 427.8,695.39 428.8,695.38 429.8,695.37 430.8,695.35 431.8,695.33 432.8,695.31 433.8,695.29 434.8,695.27 435.8,695.24 436.8,695.21 437.8,695.18 438.8,695.14 439.8,695.1 440.8,695.06 441.8,695.01 442.8,694.95 443.8,694.9 444.8,694.83 445.8,694.76 446.8,694.69 447.8,694.6 448.8,694.51 449.8,694.41 450.8,694.31 451.8,694.19 452.8,694.06 453.8,693.92 454.8,693.77 455.8,693.61 456.8,693.44 457.8,693.25 458.8,693.04 459.8,692.82 460.8,692.58 461.8,692.32 462.8,692.05 463.8,691.75 464.8,691.43 465.8,691.09 466.8,690.72 467.8,690.33 468.8,689.92 469.8,689.47 470.8,689 471.8,688.49 472.8,687.95 473.8,687.38 474.8,686.77 475.8,686.13 476.8,685.45 477.8,684.73 478.8,683.97 479.8,683.16 480.8,682.31 481.8,681.42 482.8,680.48 483.8,679.5 484.8,678.46 485.8,677.38 486.8,676.24 487.8,675.05 488.8,673.81 489.8,672.52 490.8,671.17 491.8,669.77 492.8,668.31 493.8,666.8 494.8,665.23 495.8,663.6 496.8,661.92 497.8,660.18 498.8,658.39 499.8,656.54 500.8,654.64 501.8,652.69 502.8,650.69 503.8,648.63 504.8,646.53 505.8,644.39 506.8,642.2 507.8,639.96 508.8,637.69 509.8,635.38 510.8,633.04 511.8,630.67 512.8,628.27 513.8,625.85 514.8,623.41 515.8,620.96 516.8,618.49 517.8,616.02 518.8,613.54 519.8,611.07 520.8,608.6 521.8,606.15 522.8,603.71 523.8,601.29 524.8,598.91 525.8,596.55 526.8,594.24 527.8,591.96 528.8,589.74 529.8,587.56 530.8,585.45 531.8,583.4 532.8,581.42 533.8,579.52 534.8,577.69 535.8,575.95 536.8,574.3 537.8,572.74 538.8,571.27 539.8,569.91 540.8,568.65 541.8,567.5 542.8,566.46 543.8,565.53 544.8,564.72 545.8,564.03 546.8,563.46 547.8,563.01 548.8,562.69 549.8,562.49 550.8,562.41 551.8,562.46 552.8,562.64 553.8,562.94 554.8,563.36 555.8,563.91 556.8,564.58 557.8,565.36 558.8,566.26 559.8,567.28 560.8,568.41 561.8,569.65 562.8,570.99 563.8,572.44 564.8,573.98 565.8,575.61 566.8,577.34 567.8,579.15 568.8,581.04 569.8,583 570.8,585.04 571.8,587.14 572.8,589.3 573.8,591.51 574.8,593.78 575.8,596.09 576.8,598.43 577.8,600.81 578.8,603.22 579.8,605.66 580.8,608.11 581.8,610.57 582.8,613.05 583.8,615.52 584.8,618 585.8,620.47 586.8,622.92 587.8,625.37 588.8,627.79 589.8,630.19 590.8,632.57 591.8,634.92 592.8,637.23 593.8,639.51 594.8,641.75 595.8,643.95 596.8,646.11 597.8,648.22 598.8,650.28 599.8,652.29 600.8,654.26 601.8,656.17 602.8,658.02 603.8,659.83 604.8,661.57 605.8,663.27 606.8,664.9 607.8,666.49 608.8,668.01 609.8,669.48 610.8,670.9 611.8,672.25 612.8,673.56 613.8,674.81 614.8,676.01 615.8,677.15 616.8,678.25 617.8,679.29 618.8,680.29 619.8,681.24 620.8,682.14 621.8,683 622.8,683.81 623.8,684.58 624.8,685.31 625.8,686 626.8,686.65 627.8,687.26 628.8,687.84 629.8,688.39 630.8,688.9 631.8,689.38 632.8,689.83 633.8,690.25 634.8,690.65 635.8,691.02 636.8,691.37 637.8,691.69 638.8,691.99 639.8,692.27 640.8,692.53 641.8,692.77 642.8,693 643.8,693.21 644.8,693.4 645.8,693.58 646.8,693.74 647.8,693.89 648.8,694.04 649.8,694.16 650.8,694.28 651.8,694.39 652.8,694.49 653.8,694.59 654.8,694.67 655.8,694.75 656.8,694.82 657.8,694.88 658.8,694.94 659.8,695 660.8,695.05 661.8,695.09 662.8,695.13 663.8,695.17 664.8,695.2 665.8,695.23 666.8,695.26 667.8,695.29 668.8,695.31 669.8,695.33 670.8,695.35 671.8,695.36 672.8,695.38 673.8,695.39 674.8,695.4 675.8,695.41 676.8,695.42 677.8,695.43 678.8,695.44 679.8,695.45 680.8,695.45 681.8,695.46 682.8,695.46 683.8,695.47 684.8,695.47 685.8,695.47 686.8,695.48 687.8,695.48 688.8,695.48 689.8,695.48 690.8,695.49 691.8,695.49 692.8,695.49 693.8,695.49 694.8,695.49 695.8,695.49 696.8,695.49 697.8,695.49 698.8,695.5 699.8,695.5 700.8,695.5 701.8,695.5 702.8,695.5 703.8,695.5 704.8,695.5 705.8,695.5 706.8,695.5 707.8,695.5 708.8,695.5 709.8,695.5 710.8,695.5 711.8,695.5 712.8,695.5 713.8,695.5 714.8,695.5 715.8,695.5 716.8,695.5 717.8,695.5 718.8,695.5 719.8,695.5 720.8,695.5 721.8,695.5 722.8,695.5 723.8,695.5 724.8,695.5 725.8,695.5 726.8,695.5 727.8,695.5 728.8,695.5 729.8,695.5 730.8,695.5 731.8,695.5 732.8,695.5 733.8,695.5 734.8,695.5 735.8,695.5 736.8,695.5 737.8,695.5 738.8,695.5 739.8,695.5 740.8,695.5 741.8,695.5 742.8,695.5 743.8,695.5 744.8,695.5 745.8,695.5 746.8,695.5 747.8,695.5 748.8,695.5 749.8,695.5 750.8,695.5 751.8,695.5 752.8,695.5 753.8,695.5 754.8,695.5 755.8,695.5 756.8,695.5 757.8,695.5 758.8,695.5 759.8,695.5 760.8,695.5 761.8,695.5 762.8,695.5 763.8,695.5 764.8,695.5 765.8,695.5 766.8,695.5 767.8,695.5"/>
<text transform="translate(410.2 698.6) scale(0.835 1)" class="tl" text-anchor="end">0</text>
<line x1="412.5" y1="695.5" x2="417" y2="695.5" class="tick"/>
<text transform="translate(410.2 644.5) scale(0.835 1)" class="tl" text-anchor="end">10</text>
<line x1="412.5" y1="641.5" x2="417" y2="641.5" class="tick"/>
<text transform="translate(410.2 590.4) scale(0.835 1)" class="tl" text-anchor="end">20</text>
<line x1="412.5" y1="587.5" x2="417" y2="587.5" class="tick"/>
<text transform="translate(410.2 536.3) scale(0.835 1)" class="tl" text-anchor="end">30</text>
<line x1="412.5" y1="533.5" x2="417" y2="533.5" class="tick"/>
<text transform="translate(430.5 705.2) scale(0.835 1)" class="tl" text-anchor="middle">20</text>
<text transform="translate(470.5 705.2) scale(0.835 1)" class="tl" text-anchor="middle">40</text>
<text transform="translate(510.5 705.2) scale(0.835 1)" class="tl" text-anchor="middle">60</text>
<text transform="translate(550.5 705.2) scale(0.835 1)" class="tl" text-anchor="middle">80</text>
<text transform="translate(590.5 705.2) scale(0.835 1)" class="tl" text-anchor="middle">100</text>
<text transform="translate(630.5 705.2) scale(0.835 1)" class="tl" text-anchor="middle">120</text>
<text transform="translate(670.5 705.2) scale(0.835 1)" class="tl" text-anchor="middle">140</text>
<text transform="translate(710.5 705.2) scale(0.835 1)" class="tl" text-anchor="middle">160</text>
<text transform="translate(750.5 705.2) scale(0.835 1)" class="tl" text-anchor="middle">180</text>
<text x="585.9" y="513.6" class="tt" text-anchor="middle" textLength="59.9" lengthAdjust="spacingAndGlyphs">DORV and Truncus</text>
<rect x="547.05" y="515.6" width="13.4" height="8.6" class="box"/>
<text transform="translate(553.75 522.8) scale(0.835 1)" class="bt" text-anchor="middle">81.7</text>
<text x="590.05" y="718.9" class="xl" text-anchor="middle" textLength="87.2" lengthAdjust="spacingAndGlyphs">Percent Expected VO2peak</text>
<text transform="translate(404.75 510.1) scale(0.95 1)" class="pl" text-anchor="middle">(<tspan class="pli">g</tspan>)</text>
<line x1="24.5" y1="750" x2="24.5" y2="930" class="ax"/>
<line x1="24.5" y1="930" x2="380" y2="930" class="ax"/>
<rect x="82.6" y="918.49" width="19.9" height="11.51" class="bar"/>
<rect x="102.5" y="918.49" width="19.9" height="11.51" class="bar"/>
<rect x="122.4" y="872.45" width="19.9" height="57.55" class="bar"/>
<rect x="142.3" y="832.16" width="19.9" height="97.84" class="bar"/>
<rect x="162.2" y="832.16" width="19.9" height="97.84" class="bar"/>
<rect x="182.1" y="837.91" width="19.9" height="92.09" class="bar"/>
<rect x="202" y="849.43" width="19.9" height="80.57" class="bar"/>
<rect x="221.9" y="872.45" width="19.9" height="57.55" class="bar"/>
<rect x="241.8" y="906.98" width="19.9" height="23.02" class="bar"/>
<rect x="261.7" y="918.49" width="19.9" height="11.51" class="bar"/>
<line x1="130.5" y1="750" x2="130.5" y2="930" class="dot"/>
<line x1="233.5" y1="750" x2="233.5" y2="930" class="dot"/>
<line x1="157.5" y1="750" x2="157.5" y2="930" class="thin"/>
<line x1="211.5" y1="750" x2="211.5" y2="930" class="thin"/>
<line x1="180.4" y1="754.55" x2="180.4" y2="930" class="mean" style="stroke-width:1.8;stroke:#1a1a1a"/>
<polyline class="curve" points="24.5,929.96 25.5,929.96 26.5,929.95 27.5,929.95 28.5,929.94 29.5,929.94 30.5,929.93 31.5,929.92 32.5,929.92 33.5,929.91 34.5,929.9 35.5,929.89 36.5,929.88 37.5,929.86 38.5,929.85 39.5,929.84 40.5,929.82 41.5,929.81 42.5,929.79 43.5,929.77 44.5,929.75 45.5,929.72 46.5,929.7 47.5,929.67 48.5,929.64 49.5,929.61 50.5,929.58 51.5,929.54 52.5,929.5 53.5,929.46 54.5,929.41 55.5,929.36 56.5,929.31 57.5,929.25 58.5,929.19 59.5,929.12 60.5,929.05 61.5,928.97 62.5,928.89 63.5,928.8 64.5,928.71 65.5,928.61 66.5,928.5 67.5,928.39 68.5,928.27 69.5,928.14 70.5,928 71.5,927.85 72.5,927.7 73.5,927.53 74.5,927.36 75.5,927.17 76.5,926.97 77.5,926.76 78.5,926.54 79.5,926.3 80.5,926.05 81.5,925.79 82.5,925.51 83.5,925.22 84.5,924.91 85.5,924.58 86.5,924.24 87.5,923.88 88.5,923.5 89.5,923.1 90.5,922.68 91.5,922.24 92.5,921.78 93.5,921.3 94.5,920.79 95.5,920.27 96.5,919.71 97.5,919.14 98.5,918.54 99.5,917.91 100.5,917.26 101.5,916.58 102.5,915.87 103.5,915.14 104.5,914.37 105.5,913.58 106.5,912.76 107.5,911.91 108.5,911.03 109.5,910.12 110.5,909.18 111.5,908.2 112.5,907.2 113.5,906.17 114.5,905.1 115.5,904 116.5,902.88 117.5,901.72 118.5,900.53 119.5,899.31 120.5,898.05 121.5,896.77 122.5,895.46 123.5,894.12 124.5,892.75 125.5,891.36 126.5,889.93 127.5,888.48 128.5,887.01 129.5,885.51 130.5,883.99 131.5,882.44 132.5,880.88 133.5,879.29 134.5,877.69 135.5,876.07 136.5,874.44 137.5,872.79 138.5,871.13 139.5,869.46 140.5,867.78 141.5,866.1 142.5,864.41 143.5,862.72 144.5,861.03 145.5,859.35 146.5,857.66 147.5,855.99 148.5,854.32 149.5,852.66 150.5,851.02 151.5,849.39 152.5,847.78 153.5,846.2 154.5,844.63 155.5,843.09 156.5,841.58 157.5,840.1 158.5,838.66 159.5,837.24 160.5,835.87 161.5,834.54 162.5,833.24 163.5,832 164.5,830.8 165.5,829.64 166.5,828.54 167.5,827.49 168.5,826.5 169.5,825.56 170.5,824.68 171.5,823.86 172.5,823.1 173.5,822.4 174.5,821.77 175.5,821.2 176.5,820.7 177.5,820.26 178.5,819.9 179.5,819.6 180.5,819.37 181.5,819.21 182.5,819.12 183.5,819.1 184.5,819.15 185.5,819.27 186.5,819.45 187.5,819.71 188.5,820.04 189.5,820.44 190.5,820.9 191.5,821.43 192.5,822.02 193.5,822.68 194.5,823.41 195.5,824.19 196.5,825.04 197.5,825.94 198.5,826.9 199.5,827.92 200.5,828.99 201.5,830.11 202.5,831.28 203.5,832.51 204.5,833.77 205.5,835.08 206.5,836.43 207.5,837.82 208.5,839.25 209.5,840.71 210.5,842.2 211.5,843.72 212.5,845.27 213.5,846.85 214.5,848.44 215.5,850.06 216.5,851.69 217.5,853.34 218.5,855 219.5,856.68 220.5,858.35 221.5,860.04 222.5,861.73 223.5,863.42 224.5,865.11 225.5,866.79 226.5,868.48 227.5,870.15 228.5,871.82 229.5,873.47 230.5,875.11 231.5,876.74 232.5,878.35 233.5,879.95 234.5,881.53 235.5,883.08 236.5,884.62 237.5,886.13 238.5,887.62 239.5,889.08 240.5,890.52 241.5,891.94 242.5,893.32 243.5,894.68 244.5,896.01 245.5,897.3 246.5,898.57 247.5,899.81 248.5,901.02 249.5,902.2 250.5,903.34 251.5,904.46 252.5,905.54 253.5,906.6 254.5,907.62 255.5,908.61 256.5,909.57 257.5,910.5 258.5,911.4 259.5,912.26 260.5,913.1 261.5,913.91 262.5,914.69 263.5,915.44 264.5,916.17 265.5,916.86 266.5,917.53 267.5,918.17 268.5,918.79 269.5,919.38 270.5,919.94 271.5,920.49 272.5,921 273.5,921.5 274.5,921.97 275.5,922.42 276.5,922.85 277.5,923.26 278.5,923.66 279.5,924.03 280.5,924.38 281.5,924.72 282.5,925.04 283.5,925.34 284.5,925.63 285.5,925.9 286.5,926.16 287.5,926.4 288.5,926.63 289.5,926.85 290.5,927.05 291.5,927.25 292.5,927.43 293.5,927.6 294.5,927.76 295.5,927.92 296.5,928.06 297.5,928.19 298.5,928.32 299.5,928.44 300.5,928.55 301.5,928.65 302.5,928.75 303.5,928.84 304.5,928.93 305.5,929.01 306.5,929.08 307.5,929.15 308.5,929.21 309.5,929.27 310.5,929.33 311.5,929.38 312.5,929.43 313.5,929.47 314.5,929.52 315.5,929.55 316.5,929.59 317.5,929.62 318.5,929.65 319.5,929.68 320.5,929.71 321.5,929.73 322.5,929.76 323.5,929.78 324.5,929.8 325.5,929.81 326.5,929.83 327.5,929.84 328.5,929.86 329.5,929.87 330.5,929.88 331.5,929.89 332.5,929.9 333.5,929.91 334.5,929.92 335.5,929.93 336.5,929.93 337.5,929.94 338.5,929.94 339.5,929.95 340.5,929.95 341.5,929.96 342.5,929.96 343.5,929.97 344.5,929.97 345.5,929.97 346.5,929.98 347.5,929.98 348.5,929.98 349.5,929.98 350.5,929.98 351.5,929.99 352.5,929.99 353.5,929.99 354.5,929.99 355.5,929.99 356.5,929.99 357.5,929.99 358.5,929.99 359.5,929.99 360.5,929.99 361.5,930 362.5,930 363.5,930 364.5,930 365.5,930 366.5,930 367.5,930 368.5,930 369.5,930 370.5,930 371.5,930 372.5,930 373.5,930 374.5,930 375.5,930 376.5,930 377.5,930 378.5,930 379.5,930"/>
<text transform="translate(22.2 932.9) scale(0.835 1)" class="tl" text-anchor="end">0</text>
<line x1="24.5" y1="930.5" x2="29" y2="930.5" class="tick"/>
<text transform="translate(22.2 878.8) scale(0.835 1)" class="tl" text-anchor="end">10</text>
<line x1="24.5" y1="875.5" x2="29" y2="875.5" class="tick"/>
<text transform="translate(22.2 824.7) scale(0.835 1)" class="tl" text-anchor="end">20</text>
<line x1="24.5" y1="821.5" x2="29" y2="821.5" class="tick"/>
<text transform="translate(22.2 770.6) scale(0.835 1)" class="tl" text-anchor="end">30</text>
<line x1="24.5" y1="767.5" x2="29" y2="767.5" class="tick"/>
<text transform="translate(41.5 940.7) scale(0.835 1)" class="tl" text-anchor="middle">20</text>
<text transform="translate(81.5 940.7) scale(0.835 1)" class="tl" text-anchor="middle">40</text>
<text transform="translate(121.5 940.7) scale(0.835 1)" class="tl" text-anchor="middle">60</text>
<text transform="translate(161.5 940.7) scale(0.835 1)" class="tl" text-anchor="middle">80</text>
<text transform="translate(201.5 940.7) scale(0.835 1)" class="tl" text-anchor="middle">100</text>
<text transform="translate(241.5 940.7) scale(0.835 1)" class="tl" text-anchor="middle">120</text>
<text transform="translate(281.5 940.7) scale(0.835 1)" class="tl" text-anchor="middle">140</text>
<text transform="translate(321.5 940.7) scale(0.835 1)" class="tl" text-anchor="middle">160</text>
<text transform="translate(361.5 940.7) scale(0.835 1)" class="tl" text-anchor="middle">180</text>
<text x="197.45" y="747.8" class="tt" text-anchor="middle" textLength="14.4" lengthAdjust="spacingAndGlyphs">TGA</text>
<rect x="173.7" y="750.25" width="13.4" height="8.6" class="box"/>
<text transform="translate(180.4 757.45) scale(0.835 1)" class="bt" text-anchor="middle">89.4</text>
<text x="202" y="954.2" class="xl" text-anchor="middle" textLength="88.5" lengthAdjust="spacingAndGlyphs">Percent Expected VO2peak</text>
<text transform="translate(13.75 743.6) scale(0.95 1)" class="pl" text-anchor="middle">(<tspan class="pli">f</tspan>)</text>
<line x1="412.5" y1="750" x2="412.5" y2="930" class="ax"/>
<line x1="412.5" y1="930" x2="768" y2="930" class="ax"/>
<rect x="450.57" y="927.51" width="19.97" height="2.49" class="bar"/>
<rect x="470.54" y="916.26" width="19.97" height="13.74" class="bar"/>
<rect x="490.51" y="891.26" width="19.97" height="38.74" class="bar"/>
<rect x="510.48" y="866.16" width="19.97" height="63.84" class="bar"/>
<rect x="530.45" y="824.5" width="19.97" height="105.5" class="bar"/>
<rect x="550.42" y="832.62" width="19.97" height="97.38" class="bar"/>
<rect x="570.39" y="841.82" width="19.97" height="88.18" class="bar"/>
<rect x="590.36" y="858.59" width="19.97" height="71.41" class="bar"/>
<rect x="610.33" y="902.52" width="19.97" height="27.48" class="bar"/>
<rect x="630.3" y="913.77" width="19.97" height="16.23" class="bar"/>
<rect x="650.27" y="924.59" width="19.97" height="5.41" class="bar"/>
<rect x="670.24" y="924.59" width="19.97" height="5.41" class="bar"/>
<rect x="690.21" y="927.51" width="19.97" height="2.49" class="bar"/>
<line x1="506.5" y1="750.3" x2="506.5" y2="930" class="dot"/>
<line x1="615.5" y1="750.3" x2="615.5" y2="930" class="dot"/>
<line x1="533.5" y1="750.3" x2="533.5" y2="930" class="thin"/>
<line x1="589.5" y1="750.3" x2="589.5" y2="930" class="thin"/>
<line x1="559.4" y1="755" x2="559.4" y2="930" class="mean" style="stroke-width:1.8;stroke:#0a0a0a"/>
<polyline class="curve" points="412.8,929.82 413.8,929.81 414.8,929.79 415.8,929.77 416.8,929.75 417.8,929.73 418.8,929.7 419.8,929.68 420.8,929.65 421.8,929.62 422.8,929.59 423.8,929.56 424.8,929.52 425.8,929.48 426.8,929.44 427.8,929.39 428.8,929.34 429.8,929.29 430.8,929.24 431.8,929.18 432.8,929.11 433.8,929.04 434.8,928.97 435.8,928.89 436.8,928.81 437.8,928.72 438.8,928.63 439.8,928.53 440.8,928.42 441.8,928.31 442.8,928.19 443.8,928.06 444.8,927.92 445.8,927.78 446.8,927.63 447.8,927.47 448.8,927.3 449.8,927.12 450.8,926.92 451.8,926.72 452.8,926.51 453.8,926.28 454.8,926.05 455.8,925.8 456.8,925.53 457.8,925.26 458.8,924.97 459.8,924.66 460.8,924.34 461.8,924 462.8,923.65 463.8,923.28 464.8,922.89 465.8,922.49 466.8,922.06 467.8,921.62 468.8,921.16 469.8,920.68 470.8,920.17 471.8,919.65 472.8,919.1 473.8,918.53 474.8,917.94 475.8,917.33 476.8,916.69 477.8,916.03 478.8,915.34 479.8,914.63 480.8,913.9 481.8,913.14 482.8,912.35 483.8,911.54 484.8,910.7 485.8,909.83 486.8,908.94 487.8,908.02 488.8,907.07 489.8,906.1 490.8,905.1 491.8,904.07 492.8,903.02 493.8,901.94 494.8,900.83 495.8,899.7 496.8,898.54 497.8,897.36 498.8,896.15 499.8,894.92 500.8,893.66 501.8,892.39 502.8,891.08 503.8,889.76 504.8,888.42 505.8,887.05 506.8,885.67 507.8,884.27 508.8,882.85 509.8,881.41 510.8,879.96 511.8,878.5 512.8,877.03 513.8,875.54 514.8,874.05 515.8,872.55 516.8,871.04 517.8,869.52 518.8,868.01 519.8,866.49 520.8,864.98 521.8,863.46 522.8,861.95 523.8,860.45 524.8,858.95 525.8,857.47 526.8,856 527.8,854.54 528.8,853.09 529.8,851.67 530.8,850.26 531.8,848.87 532.8,847.51 533.8,846.18 534.8,844.87 535.8,843.59 536.8,842.35 537.8,841.13 538.8,839.96 539.8,838.82 540.8,837.72 541.8,836.66 542.8,835.64 543.8,834.67 544.8,833.74 545.8,832.86 546.8,832.03 547.8,831.25 548.8,830.52 549.8,829.84 550.8,829.22 551.8,828.65 552.8,828.13 553.8,827.68 554.8,827.28 555.8,826.94 556.8,826.66 557.8,826.44 558.8,826.27 559.8,826.17 560.8,826.13 561.8,826.15 562.8,826.23 563.8,826.36 564.8,826.56 565.8,826.82 566.8,827.13 567.8,827.51 568.8,827.94 569.8,828.43 570.8,828.98 571.8,829.58 572.8,830.23 573.8,830.94 574.8,831.7 575.8,832.51 576.8,833.37 577.8,834.28 578.8,835.24 579.8,836.24 580.8,837.28 581.8,838.36 582.8,839.49 583.8,840.65 584.8,841.85 585.8,843.08 586.8,844.35 587.8,845.64 588.8,846.97 589.8,848.32 590.8,849.69 591.8,851.09 592.8,852.51 593.8,853.94 594.8,855.4 595.8,856.87 596.8,858.35 597.8,859.84 598.8,861.34 599.8,862.85 600.8,864.36 601.8,865.87 602.8,867.39 603.8,868.91 604.8,870.42 605.8,871.93 606.8,873.44 607.8,874.93 608.8,876.42 609.8,877.9 610.8,879.37 611.8,880.82 612.8,882.26 613.8,883.69 614.8,885.1 615.8,886.49 616.8,887.86 617.8,889.21 618.8,890.55 619.8,891.86 620.8,893.14 621.8,894.41 622.8,895.65 623.8,896.87 624.8,898.06 625.8,899.23 626.8,900.38 627.8,901.49 628.8,902.58 629.8,903.65 630.8,904.68 631.8,905.69 632.8,906.68 633.8,907.64 634.8,908.57 635.8,909.47 636.8,910.35 637.8,911.2 638.8,912.02 639.8,912.82 640.8,913.59 641.8,914.34 642.8,915.06 643.8,915.75 644.8,916.42 645.8,917.07 646.8,917.69 647.8,918.3 648.8,918.87 649.8,919.43 650.8,919.96 651.8,920.47 652.8,920.96 653.8,921.43 654.8,921.89 655.8,922.32 656.8,922.73 657.8,923.12 658.8,923.5 659.8,923.86 660.8,924.2 661.8,924.53 662.8,924.84 663.8,925.14 664.8,925.42 665.8,925.69 666.8,925.95 667.8,926.19 668.8,926.42 669.8,926.64 670.8,926.84 671.8,927.04 672.8,927.22 673.8,927.4 674.8,927.56 675.8,927.72 676.8,927.87 677.8,928.01 678.8,928.14 679.8,928.26 680.8,928.38 681.8,928.49 682.8,928.59 683.8,928.69 684.8,928.78 685.8,928.86 686.8,928.94 687.8,929.02 688.8,929.09 689.8,929.15 690.8,929.21 691.8,929.27 692.8,929.32 693.8,929.37 694.8,929.42 695.8,929.46 696.8,929.5 697.8,929.54 698.8,929.58 699.8,929.61 700.8,929.64 701.8,929.67 702.8,929.69 703.8,929.72 704.8,929.74 705.8,929.76 706.8,929.78 707.8,929.8 708.8,929.81 709.8,929.83 710.8,929.84 711.8,929.86 712.8,929.87 713.8,929.88 714.8,929.89 715.8,929.9 716.8,929.91 717.8,929.92 718.8,929.92 719.8,929.93 720.8,929.94 721.8,929.94 722.8,929.95 723.8,929.95 724.8,929.96 725.8,929.96 726.8,929.96 727.8,929.97 728.8,929.97 729.8,929.97 730.8,929.98 731.8,929.98 732.8,929.98 733.8,929.98 734.8,929.98 735.8,929.99 736.8,929.99 737.8,929.99 738.8,929.99 739.8,929.99 740.8,929.99 741.8,929.99 742.8,929.99 743.8,929.99 744.8,929.99 745.8,929.99 746.8,930 747.8,930 748.8,930 749.8,930 750.8,930 751.8,930 752.8,930 753.8,930 754.8,930 755.8,930 756.8,930 757.8,930 758.8,930 759.8,930 760.8,930 761.8,930 762.8,930 763.8,930 764.8,930 765.8,930 766.8,930 767.8,930"/>
<text transform="translate(410.2 932.9) scale(0.835 1)" class="tl" text-anchor="end">0</text>
<line x1="412.5" y1="930.5" x2="417" y2="930.5" class="tick"/>
<text transform="translate(410.2 878.8) scale(0.835 1)" class="tl" text-anchor="end">10</text>
<line x1="412.5" y1="875.5" x2="417" y2="875.5" class="tick"/>
<text transform="translate(410.2 824.7) scale(0.835 1)" class="tl" text-anchor="end">20</text>
<line x1="412.5" y1="821.5" x2="417" y2="821.5" class="tick"/>
<text transform="translate(410.2 770.6) scale(0.835 1)" class="tl" text-anchor="end">30</text>
<line x1="412.5" y1="767.5" x2="417" y2="767.5" class="tick"/>
<text transform="translate(430.5 940.7) scale(0.835 1)" class="tl" text-anchor="middle">20</text>
<text transform="translate(470.44 940.7) scale(0.835 1)" class="tl" text-anchor="middle">40</text>
<text transform="translate(510.38 940.7) scale(0.835 1)" class="tl" text-anchor="middle">60</text>
<text transform="translate(550.32 940.7) scale(0.835 1)" class="tl" text-anchor="middle">80</text>
<text transform="translate(590.26 940.7) scale(0.835 1)" class="tl" text-anchor="middle">100</text>
<text transform="translate(630.2 940.7) scale(0.835 1)" class="tl" text-anchor="middle">120</text>
<text transform="translate(670.14 940.7) scale(0.835 1)" class="tl" text-anchor="middle">140</text>
<text transform="translate(710.08 940.7) scale(0.835 1)" class="tl" text-anchor="middle">160</text>
<text transform="translate(750.02 940.7) scale(0.835 1)" class="tl" text-anchor="middle">180</text>
<text x="586" y="748.2" class="tt" text-anchor="middle" textLength="55.7" lengthAdjust="spacingAndGlyphs">Tetralogy of Fallot</text>
<rect x="552.6" y="750.7" width="13.4" height="8.6" class="box"/>
<text transform="translate(559.3 757.9) scale(0.835 1)" class="bt" text-anchor="middle">84.5</text>
<text x="590.25" y="954.2" class="xl" text-anchor="middle" textLength="87.6" lengthAdjust="spacingAndGlyphs">Percent Expected VO2peak</text>
<text transform="translate(404.75 743.6) scale(0.95 1)" class="pl" text-anchor="middle">(<tspan class="pli">h</tspan>)</text>
<line x1="20.5" y1="980.5" x2="20.5" y2="1161.75" class="ax"/>
<line x1="20.5" y1="1161.75" x2="377.5" y2="1161.75" class="ax"/>
<rect x="58.98" y="1146.86" width="19.98" height="14.89" class="bar"/>
<rect x="78.96" y="1131.97" width="19.98" height="29.78" class="bar"/>
<rect x="98.94" y="1092.26" width="19.98" height="69.49" class="bar"/>
<rect x="118.92" y="1052.56" width="19.98" height="109.19" class="bar"/>
<rect x="138.9" y="1062.48" width="19.98" height="99.27" class="bar"/>
<rect x="158.88" y="1047.59" width="19.98" height="114.16" class="bar"/>
<rect x="178.86" y="1097.23" width="19.98" height="64.52" class="bar"/>
<rect x="198.84" y="1131.97" width="19.98" height="29.78" class="bar"/>
<rect x="218.82" y="1156.79" width="19.98" height="4.96" class="bar"/>
<rect x="258.78" y="1156.79" width="19.98" height="4.96" class="bar"/>
<line x1="102.5" y1="980.5" x2="102.5" y2="1161.75" class="dot"/>
<line x1="194.5" y1="980.5" x2="194.5" y2="1161.75" class="dot"/>
<line x1="124.5" y1="980.5" x2="124.5" y2="1161.75" class="thin"/>
<line x1="176.5" y1="980.5" x2="176.5" y2="1161.75" class="thin"/>
<line x1="147.3" y1="985.95" x2="147.3" y2="1161.75" class="mean" style="stroke-width:1.8;stroke:#2a2a2a"/>
<polyline class="curve" points="20.75,1161.46 21.75,1161.43 22.75,1161.4 23.75,1161.36 24.75,1161.33 25.75,1161.29 26.75,1161.24 27.75,1161.19 28.75,1161.14 29.75,1161.09 30.75,1161.03 31.75,1160.96 32.75,1160.89 33.75,1160.81 34.75,1160.73 35.75,1160.64 36.75,1160.55 37.75,1160.45 38.75,1160.33 39.75,1160.22 40.75,1160.09 41.75,1159.95 42.75,1159.81 43.75,1159.65 44.75,1159.48 45.75,1159.3 46.75,1159.11 47.75,1158.91 48.75,1158.69 49.75,1158.46 50.75,1158.21 51.75,1157.94 52.75,1157.66 53.75,1157.37 54.75,1157.05 55.75,1156.72 56.75,1156.37 57.75,1155.99 58.75,1155.59 59.75,1155.18 60.75,1154.74 61.75,1154.27 62.75,1153.78 63.75,1153.26 64.75,1152.72 65.75,1152.15 66.75,1151.55 67.75,1150.92 68.75,1150.26 69.75,1149.57 70.75,1148.85 71.75,1148.09 72.75,1147.31 73.75,1146.48 74.75,1145.63 75.75,1144.73 76.75,1143.81 77.75,1142.84 78.75,1141.84 79.75,1140.8 80.75,1139.72 81.75,1138.6 82.75,1137.44 83.75,1136.25 84.75,1135.02 85.75,1133.74 86.75,1132.43 87.75,1131.08 88.75,1129.7 89.75,1128.27 90.75,1126.81 91.75,1125.3 92.75,1123.77 93.75,1122.19 94.75,1120.59 95.75,1118.94 96.75,1117.27 97.75,1115.57 98.75,1113.83 99.75,1112.07 100.75,1110.28 101.75,1108.46 102.75,1106.62 103.75,1104.76 104.75,1102.89 105.75,1100.99 106.75,1099.08 107.75,1097.16 108.75,1095.22 109.75,1093.28 110.75,1091.34 111.75,1089.4 112.75,1087.45 113.75,1085.51 114.75,1083.58 115.75,1081.65 116.75,1079.75 117.75,1077.85 118.75,1075.98 119.75,1074.13 120.75,1072.31 121.75,1070.51 122.75,1068.75 123.75,1067.03 124.75,1065.34 125.75,1063.7 126.75,1062.1 127.75,1060.55 128.75,1059.05 129.75,1057.61 130.75,1056.23 131.75,1054.91 132.75,1053.65 133.75,1052.45 134.75,1051.33 135.75,1050.27 136.75,1049.29 137.75,1048.39 138.75,1047.56 139.75,1046.81 140.75,1046.14 141.75,1045.55 142.75,1045.05 143.75,1044.63 144.75,1044.3 145.75,1044.05 146.75,1043.89 147.75,1043.82 148.75,1043.83 149.75,1043.93 150.75,1044.12 151.75,1044.39 152.75,1044.76 153.75,1045.2 154.75,1045.73 155.75,1046.34 156.75,1047.04 157.75,1047.81 158.75,1048.67 159.75,1049.6 160.75,1050.6 161.75,1051.68 162.75,1052.82 163.75,1054.04 164.75,1055.32 165.75,1056.66 166.75,1058.07 167.75,1059.52 168.75,1061.04 169.75,1062.6 170.75,1064.21 171.75,1065.87 172.75,1067.57 173.75,1069.31 174.75,1071.08 175.75,1072.88 176.75,1074.72 177.75,1076.57 178.75,1078.45 179.75,1080.35 180.75,1082.27 181.75,1084.19 182.75,1086.13 183.75,1088.07 184.75,1090.01 185.75,1091.96 186.75,1093.9 187.75,1095.84 188.75,1097.77 189.75,1099.69 190.75,1101.6 191.75,1103.49 192.75,1105.36 193.75,1107.21 194.75,1109.04 195.75,1110.85 196.75,1112.63 197.75,1114.39 198.75,1116.11 199.75,1117.81 200.75,1119.47 201.75,1121.1 202.75,1122.7 203.75,1124.26 204.75,1125.79 205.75,1127.28 206.75,1128.73 207.75,1130.14 208.75,1131.52 209.75,1132.86 210.75,1134.15 211.75,1135.41 212.75,1136.63 213.75,1137.82 214.75,1138.96 215.75,1140.07 216.75,1141.13 217.75,1142.16 218.75,1143.15 219.75,1144.11 220.75,1145.02 221.75,1145.9 222.75,1146.75 223.75,1147.56 224.75,1148.34 225.75,1149.08 226.75,1149.79 227.75,1150.47 228.75,1151.12 229.75,1151.74 230.75,1152.33 231.75,1152.9 232.75,1153.43 233.75,1153.94 234.75,1154.42 235.75,1154.88 236.75,1155.31 237.75,1155.72 238.75,1156.11 239.75,1156.48 240.75,1156.83 241.75,1157.16 242.75,1157.46 243.75,1157.76 244.75,1158.03 245.75,1158.29 246.75,1158.53 247.75,1158.76 248.75,1158.97 249.75,1159.17 250.75,1159.36 251.75,1159.54 252.75,1159.7 253.75,1159.85 254.75,1160 255.75,1160.13 256.75,1160.25 257.75,1160.37 258.75,1160.48 259.75,1160.58 260.75,1160.67 261.75,1160.76 262.75,1160.84 263.75,1160.91 264.75,1160.98 265.75,1161.05 266.75,1161.11 267.75,1161.16 268.75,1161.21 269.75,1161.26 270.75,1161.3 271.75,1161.34 272.75,1161.37 273.75,1161.41 274.75,1161.44 275.75,1161.47 276.75,1161.49 277.75,1161.52 278.75,1161.54 279.75,1161.56 280.75,1161.57 281.75,1161.59 282.75,1161.61 283.75,1161.62 284.75,1161.63 285.75,1161.64 286.75,1161.65 287.75,1161.66 288.75,1161.67 289.75,1161.68 290.75,1161.69 291.75,1161.69 292.75,1161.7 293.75,1161.7 294.75,1161.71 295.75,1161.71 296.75,1161.72 297.75,1161.72 298.75,1161.72 299.75,1161.73 300.75,1161.73 301.75,1161.73 302.75,1161.73 303.75,1161.73 304.75,1161.74 305.75,1161.74 306.75,1161.74 307.75,1161.74 308.75,1161.74 309.75,1161.74 310.75,1161.74 311.75,1161.74 312.75,1161.74 313.75,1161.75 314.75,1161.75 315.75,1161.75 316.75,1161.75 317.75,1161.75 318.75,1161.75 319.75,1161.75 320.75,1161.75 321.75,1161.75 322.75,1161.75 323.75,1161.75 324.75,1161.75 325.75,1161.75 326.75,1161.75 327.75,1161.75 328.75,1161.75 329.75,1161.75 330.75,1161.75 331.75,1161.75 332.75,1161.75 333.75,1161.75 334.75,1161.75 335.75,1161.75 336.75,1161.75 337.75,1161.75 338.75,1161.75 339.75,1161.75 340.75,1161.75 341.75,1161.75 342.75,1161.75 343.75,1161.75 344.75,1161.75 345.75,1161.75 346.75,1161.75 347.75,1161.75 348.75,1161.75 349.75,1161.75 350.75,1161.75 351.75,1161.75 352.75,1161.75 353.75,1161.75 354.75,1161.75 355.75,1161.75 356.75,1161.75 357.75,1161.75 358.75,1161.75 359.75,1161.75 360.75,1161.75 361.75,1161.75 362.75,1161.75 363.75,1161.75 364.75,1161.75 365.75,1161.75 366.75,1161.75 367.75,1161.75 368.75,1161.75 369.75,1161.75 370.75,1161.75 371.75,1161.75 372.75,1161.75 373.75,1161.75 374.75,1161.75 375.75,1161.75 376.75,1161.75"/>
<text transform="translate(18.2 1164.75) scale(0.835 1)" class="tl" text-anchor="end">0</text>
<line x1="20.5" y1="1161.5" x2="25" y2="1161.5" class="tick"/>
<text transform="translate(18.2 1110.65) scale(0.835 1)" class="tl" text-anchor="end">10</text>
<line x1="20.5" y1="1107.5" x2="25" y2="1107.5" class="tick"/>
<text transform="translate(18.2 1056.55) scale(0.835 1)" class="tl" text-anchor="end">20</text>
<line x1="20.5" y1="1053.5" x2="25" y2="1053.5" class="tick"/>
<text transform="translate(18.2 1002.45) scale(0.835 1)" class="tl" text-anchor="end">30</text>
<line x1="20.5" y1="999.5" x2="25" y2="999.5" class="tick"/>
<text transform="translate(38.6 1172.45) scale(0.835 1)" class="tl" text-anchor="middle">20</text>
<text transform="translate(78.66 1172.45) scale(0.835 1)" class="tl" text-anchor="middle">40</text>
<text transform="translate(118.72 1172.45) scale(0.835 1)" class="tl" text-anchor="middle">60</text>
<text transform="translate(158.78 1172.45) scale(0.835 1)" class="tl" text-anchor="middle">80</text>
<text transform="translate(198.84 1172.45) scale(0.835 1)" class="tl" text-anchor="middle">100</text>
<text transform="translate(238.9 1172.45) scale(0.835 1)" class="tl" text-anchor="middle">120</text>
<text transform="translate(278.96 1172.45) scale(0.835 1)" class="tl" text-anchor="middle">140</text>
<text transform="translate(319.02 1172.45) scale(0.835 1)" class="tl" text-anchor="middle">160</text>
<text transform="translate(359.08 1172.45) scale(0.835 1)" class="tl" text-anchor="middle">180</text>
<text x="194.6" y="978.5" class="tt" text-anchor="middle" textLength="65.5" lengthAdjust="spacingAndGlyphs">LV Dominant Fontan</text>
<rect x="140.7" y="981.65" width="13.4" height="8.6" class="box"/>
<text transform="translate(147.4 988.85) scale(0.835 1)" class="bt" text-anchor="middle">74.0</text>
<text x="199.2" y="1185.9" class="xl" text-anchor="middle" textLength="88.1" lengthAdjust="spacingAndGlyphs">Percent Expected VO2peak</text>
<text transform="translate(13.4 975.1) scale(0.95 1)" class="pl" text-anchor="middle">(<tspan class="pli">i</tspan>)</text>
<line x1="411.5" y1="978.75" x2="411.5" y2="1160.75" class="ax"/>
<line x1="411.5" y1="1160.75" x2="768" y2="1160.75" class="ax"/>
<rect x="469.54" y="1145.82" width="19.92" height="14.93" class="bar"/>
<rect x="489.46" y="1063.7" width="19.92" height="97.05" class="bar"/>
<rect x="509.38" y="1071.16" width="19.92" height="89.59" class="bar"/>
<rect x="529.3" y="1011.43" width="19.92" height="149.32" class="bar"/>
<rect x="549.22" y="1033.83" width="19.92" height="126.92" class="bar"/>
<rect x="569.14" y="1138.35" width="19.92" height="22.4" class="bar"/>
<rect x="589.06" y="1145.82" width="19.92" height="14.93" class="bar"/>
<rect x="608.98" y="1145.82" width="19.92" height="14.93" class="bar"/>
<rect x="628.9" y="1145.82" width="19.92" height="14.93" class="bar"/>
<line x1="497.5" y1="978.9" x2="497.5" y2="1160.75" class="dot"/>
<line x1="577.5" y1="978.9" x2="577.5" y2="1160.75" class="dot"/>
<line x1="520.5" y1="978.9" x2="520.5" y2="1160.75" class="thin"/>
<line x1="560.5" y1="978.9" x2="560.5" y2="1160.75" class="thin"/>
<line x1="540" y1="983.85" x2="540" y2="1160.75" class="mean" style="stroke-width:2;stroke:#5a5a5a"/>
<polyline class="curve" points="411,1160.69 412,1160.69 413,1160.68 414,1160.67 415,1160.66 416,1160.65 417,1160.64 418,1160.62 419,1160.61 420,1160.59 421,1160.57 422,1160.55 423,1160.53 424,1160.51 425,1160.48 426,1160.45 427,1160.41 428,1160.38 429,1160.34 430,1160.29 431,1160.24 432,1160.19 433,1160.13 434,1160.06 435,1159.99 436,1159.92 437,1159.83 438,1159.74 439,1159.64 440,1159.53 441,1159.41 442,1159.28 443,1159.14 444,1158.99 445,1158.83 446,1158.65 447,1158.46 448,1158.26 449,1158.04 450,1157.8 451,1157.54 452,1157.27 453,1156.97 454,1156.65 455,1156.31 456,1155.95 457,1155.56 458,1155.15 459,1154.71 460,1154.24 461,1153.74 462,1153.21 463,1152.64 464,1152.04 465,1151.41 466,1150.74 467,1150.03 468,1149.28 469,1148.49 470,1147.66 471,1146.78 472,1145.86 473,1144.89 474,1143.88 475,1142.82 476,1141.71 477,1140.55 478,1139.33 479,1138.07 480,1136.75 481,1135.38 482,1133.96 483,1132.48 484,1130.95 485,1129.37 486,1127.73 487,1126.04 488,1124.3 489,1122.5 490,1120.66 491,1118.76 492,1116.81 493,1114.82 494,1112.78 495,1110.69 496,1108.56 497,1106.4 498,1104.19 499,1101.95 500,1099.68 501,1097.38 502,1095.05 503,1092.7 504,1090.34 505,1087.95 506,1085.56 507,1083.16 508,1080.75 509,1078.35 510,1075.96 511,1073.57 512,1071.21 513,1068.86 514,1066.54 515,1064.25 516,1061.99 517,1059.78 518,1057.61 519,1055.49 520,1053.43 521,1051.43 522,1049.49 523,1047.63 524,1045.84 525,1044.13 526,1042.5 527,1040.96 528,1039.52 529,1038.17 530,1036.92 531,1035.77 532,1034.73 533,1033.8 534,1032.98 535,1032.28 536,1031.69 537,1031.21 538,1030.86 539,1030.62 540,1030.51 541,1030.51 542,1030.64 543,1030.88 544,1031.25 545,1031.73 546,1032.34 547,1033.05 548,1033.88 549,1034.82 550,1035.87 551,1037.03 552,1038.29 553,1039.65 554,1041.1 555,1042.64 556,1044.28 557,1045.99 558,1047.79 559,1049.66 560,1051.6 561,1053.61 562,1055.68 563,1057.8 564,1059.97 565,1062.19 566,1064.45 567,1066.74 568,1069.07 569,1071.42 570,1073.79 571,1076.17 572,1078.57 573,1080.97 574,1083.37 575,1085.77 576,1088.17 577,1090.55 578,1092.91 579,1095.26 580,1097.59 581,1099.89 582,1102.15 583,1104.39 584,1106.59 585,1108.76 586,1110.88 587,1112.96 588,1115 589,1116.99 590,1118.93 591,1120.82 592,1122.67 593,1124.46 594,1126.2 595,1127.88 596,1129.51 597,1131.09 598,1132.62 599,1134.09 600,1135.51 601,1136.87 602,1138.19 603,1139.44 604,1140.65 605,1141.81 606,1142.92 607,1143.97 608,1144.98 609,1145.95 610,1146.86 611,1147.73 612,1148.56 613,1149.35 614,1150.09 615,1150.8 616,1151.47 617,1152.1 618,1152.69 619,1153.26 620,1153.78 621,1154.28 622,1154.75 623,1155.19 624,1155.6 625,1155.99 626,1156.35 627,1156.68 628,1157 629,1157.29 630,1157.57 631,1157.82 632,1158.06 633,1158.28 634,1158.48 635,1158.67 636,1158.85 637,1159.01 638,1159.16 639,1159.3 640,1159.42 641,1159.54 642,1159.65 643,1159.75 644,1159.84 645,1159.92 646,1160 647,1160.07 648,1160.13 649,1160.19 650,1160.25 651,1160.29 652,1160.34 653,1160.38 654,1160.42 655,1160.45 656,1160.48 657,1160.51 658,1160.53 659,1160.55 660,1160.58 661,1160.59 662,1160.61 663,1160.63 664,1160.64 665,1160.65 666,1160.66 667,1160.67 668,1160.68 669,1160.69 670,1160.69 671,1160.7 672,1160.71 673,1160.71 674,1160.72 675,1160.72 676,1160.72 677,1160.73 678,1160.73 679,1160.73 680,1160.73 681,1160.74 682,1160.74 683,1160.74 684,1160.74 685,1160.74 686,1160.74 687,1160.74 688,1160.74 689,1160.75 690,1160.75 691,1160.75 692,1160.75 693,1160.75 694,1160.75 695,1160.75 696,1160.75 697,1160.75 698,1160.75 699,1160.75 700,1160.75 701,1160.75 702,1160.75 703,1160.75 704,1160.75 705,1160.75 706,1160.75 707,1160.75 708,1160.75 709,1160.75 710,1160.75 711,1160.75 712,1160.75 713,1160.75 714,1160.75 715,1160.75 716,1160.75 717,1160.75 718,1160.75 719,1160.75 720,1160.75 721,1160.75 722,1160.75 723,1160.75 724,1160.75 725,1160.75 726,1160.75 727,1160.75 728,1160.75 729,1160.75 730,1160.75 731,1160.75 732,1160.75 733,1160.75 734,1160.75 735,1160.75 736,1160.75 737,1160.75 738,1160.75 739,1160.75 740,1160.75 741,1160.75 742,1160.75 743,1160.75 744,1160.75 745,1160.75 746,1160.75 747,1160.75 748,1160.75 749,1160.75 750,1160.75 751,1160.75 752,1160.75 753,1160.75 754,1160.75 755,1160.75 756,1160.75 757,1160.75 758,1160.75 759,1160.75 760,1160.75 761,1160.75 762,1160.75 763,1160.75 764,1160.75 765,1160.75 766,1160.75 767,1160.75 768,1160.75"/>
<text transform="translate(409.2 1163.75) scale(0.835 1)" class="tl" text-anchor="end">0</text>
<line x1="411.5" y1="1160.5" x2="416" y2="1160.5" class="tick"/>
<text transform="translate(409.2 1109.25) scale(0.835 1)" class="tl" text-anchor="end">10</text>
<line x1="411.5" y1="1106.5" x2="416" y2="1106.5" class="tick"/>
<text transform="translate(409.2 1054.75) scale(0.835 1)" class="tl" text-anchor="end">20</text>
<line x1="411.5" y1="1051.5" x2="416" y2="1051.5" class="tick"/>
<text transform="translate(409.2 1000.25) scale(0.835 1)" class="tl" text-anchor="end">30</text>
<line x1="411.5" y1="997.5" x2="416" y2="997.5" class="tick"/>
<text transform="translate(429.5 1171.45) scale(0.835 1)" class="tl" text-anchor="middle">20</text>
<text transform="translate(469.44 1171.45) scale(0.835 1)" class="tl" text-anchor="middle">40</text>
<text transform="translate(509.38 1171.45) scale(0.835 1)" class="tl" text-anchor="middle">60</text>
<text transform="translate(549.32 1171.45) scale(0.835 1)" class="tl" text-anchor="middle">80</text>
<text transform="translate(589.26 1171.45) scale(0.835 1)" class="tl" text-anchor="middle">100</text>
<text transform="translate(629.2 1171.45) scale(0.835 1)" class="tl" text-anchor="middle">120</text>
<text transform="translate(669.14 1171.45) scale(0.835 1)" class="tl" text-anchor="middle">140</text>
<text transform="translate(709.08 1171.45) scale(0.835 1)" class="tl" text-anchor="middle">160</text>
<text transform="translate(749.02 1171.45) scale(0.835 1)" class="tl" text-anchor="middle">180</text>
<text x="584.95" y="976.9" class="tt" text-anchor="middle" textLength="66.2" lengthAdjust="spacingAndGlyphs">RV Dominant Fontan</text>
<rect x="532.9" y="979.55" width="13.4" height="8.6" class="box"/>
<text transform="translate(539.6 986.75) scale(0.835 1)" class="bt" text-anchor="middle">75.4</text>
<text x="589.4" y="1184.9" class="xl" text-anchor="middle" textLength="87.7" lengthAdjust="spacingAndGlyphs">Percent Expected VO2peak</text>
<text transform="translate(402.25 974.35) scale(0.95 1)" class="pl" text-anchor="middle">(<tspan class="pli">j</tspan>)</text>
</svg></body></html>
